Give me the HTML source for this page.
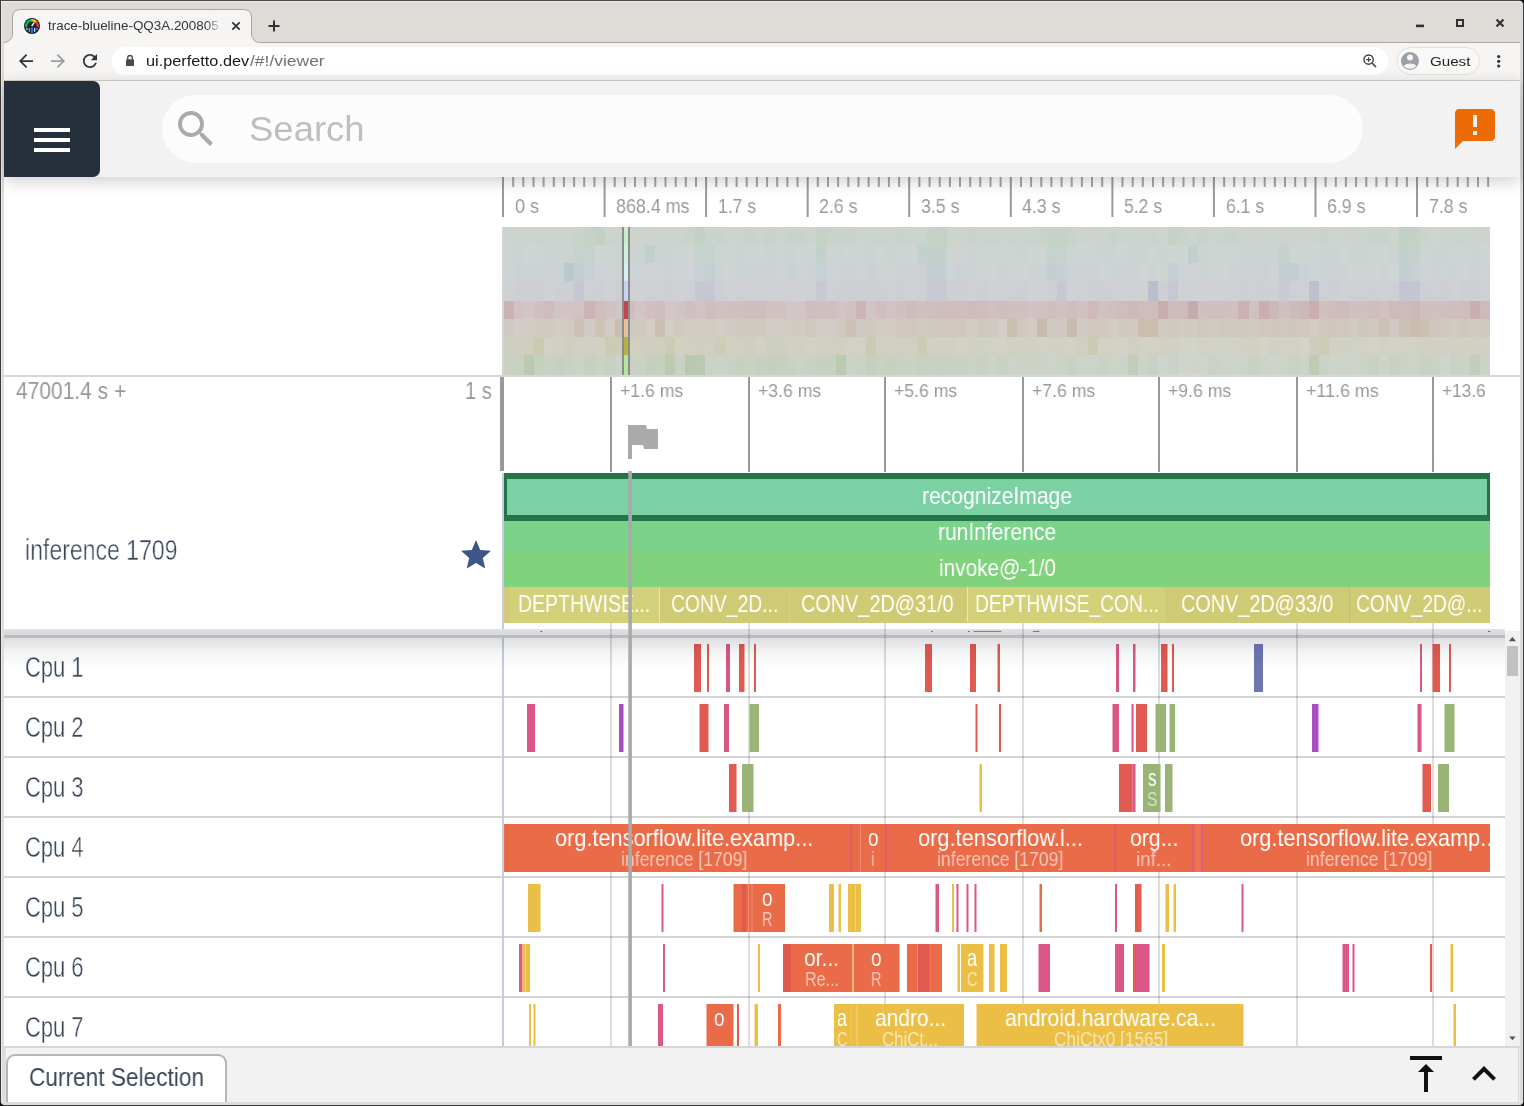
<!DOCTYPE html>
<html><head><meta charset="utf-8"><title>trace-blueline</title><style>html,body{margin:0;padding:0}
body{width:1524px;height:1106px;overflow:hidden;position:relative;background:#dfdcd8;font-family:"Liberation Sans",sans-serif;}
.r{position:absolute;display:block}
.t{position:absolute;white-space:nowrap;transform-origin:0 0;display:block;will-change:transform}
</style></head><body>
<div class="r" style="left:0px;top:0px;width:1524px;height:1106px;background:#dfdcd8;"></div>
<div class="r" style="left:1px;top:1px;width:1522px;height:1px;background:#ece9e6;"></div>
<div class="r" style="left:1px;top:1px;width:1px;height:1104px;background:#ece9e6;"></div>
<div class="r" style="left:4px;top:42px;width:1516px;height:38px;background:#f6f5f4;"></div>
<div class="r" style="left:4px;top:80px;width:1516px;height:1px;background:#d6d0ca;"></div>
<svg class="r" style="left:0;top:0" width="1524" height="81" viewBox="0 0 1524 81"><path d="M4 42.5 C8.5 42.5 12.5 38.5 12.5 34 L12.5 17.5 Q12.5 9.5 20.5 9.5 L243.5 9.5 Q251.5 9.5 251.5 17.5 L251.5 34 C251.5 38.5 255 42.5 259.5 42.5 L259.5 43 L4 43 Z" fill="#f6f5f4"/><path d="M4 42.5 C8.5 42.5 12.5 38.5 12.5 34 L12.5 17.5 Q12.5 9.5 20.5 9.5 L243.5 9.5 Q251.5 9.5 251.5 17.5 L251.5 34 C251.5 38.5 255 42.5 259.5 42.5 L1520 42.5" fill="none" stroke="#a9a6a2" stroke-width="1"/><g transform="translate(24,18)"><circle cx="8" cy="8" r="8" fill="#18212d"/><path d="M2.29 9.0 A5.8 5.8 0 0 1 7.19 2.26" stroke="#00c244" stroke-width="2.4" fill="none"/><path d="M7.19 2.26 A5.8 5.8 0 0 1 12.31 4.12" stroke="#fbb905" stroke-width="2.4" fill="none"/><path d="M12.31 4.12 A5.8 5.8 0 0 1 13.71 9.0" stroke="#ff3a1e" stroke-width="2.4" fill="none"/><path d="M7.7 8.2 L10.1 4.6" stroke="#fff" stroke-width="1.4"/><rect x="2.2" y="9.9" width="1.4" height="2.2" fill="#a9c2ea"/><rect x="4.7" y="9.9" width="1.4" height="3.9" fill="#5ea4ff"/><rect x="7" y="9.5" width="2" height="5.6" fill="#2b70dd"/><rect x="10" y="9.9" width="1.3" height="3.9" fill="#cfe5ff"/><rect x="12.2" y="9.9" width="1.6" height="2.2" fill="#2d7de9"/></g><path d="M232.3 22.3 L239.7 29.7 M239.7 22.3 L232.3 29.7" stroke="#2e3436" stroke-width="1.8" fill="none"/><path d="M268.5 26 H279.5 M274 20.5 V31.5" stroke="#2e3436" stroke-width="2" fill="none"/><rect x="1416" y="24.6" width="8" height="2.6" fill="#2e3436"/><rect x="1457" y="20" width="6" height="6" fill="none" stroke="#2e3436" stroke-width="2"/><path d="M1496.5 19.5 L1503.5 26.5 M1503.5 19.5 L1496.5 26.5" stroke="#2e3436" stroke-width="2.2" fill="none"/><rect x="111.5" y="47" width="1276.5" height="28" rx="14" fill="#fff"/><g transform="translate(15.5,50.5) scale(0.875)"><path d="M20 11H7.83l5.59-5.59L12 4l-8 8 8 8 1.41-1.41L7.83 13H20v-2z" fill="#2e3436"/></g><g transform="translate(68.5,50.5) scale(-0.875,0.875)"><path d="M20 11H7.83l5.59-5.59L12 4l-8 8 8 8 1.41-1.41L7.83 13H20v-2z" fill="#9b9c9c"/></g><g transform="translate(79.5,50.5) scale(0.875)"><path d="M17.65 6.35C16.2 4.9 14.21 4 12 4c-4.42 0-7.99 3.58-7.99 8s3.57 8 7.99 8c3.73 0 6.84-2.55 7.73-6h-2.08c-.82 2.33-3.04 4-5.65 4-3.31 0-6-2.69-6-6s2.69-6 6-6c1.66 0 3.14.69 4.22 1.78L13 11h7V4l-2.35 2.35z" fill="#2e3436"/></g><rect x="126" y="59.2" width="8" height="6.8" rx="0.8" fill="#4a4a4a"/><path d="M127.7 59.5 V57.8 a2.3 2.3 0 0 1 4.6 0 V59.5" stroke="#4a4a4a" stroke-width="1.3" fill="none"/><circle cx="1368.6" cy="59.6" r="4.6" fill="none" stroke="#3c4043" stroke-width="1.4"/><path d="M1372 63 L1376 67" stroke="#3c4043" stroke-width="1.6"/><path d="M1366.2 59.6 H1371 M1368.6 57.2 V62" stroke="#3c4043" stroke-width="1.1"/><rect x="1397" y="47.5" width="82.5" height="27" rx="13.5" fill="#f9f8f7" stroke="#e2e0dd" stroke-width="1"/><circle cx="1410" cy="61" r="9" fill="#9aa0a6"/><circle cx="1410" cy="57.6" r="3" fill="#f6f5f4"/><path d="M1403.8 66.2 a6.4 3.6 0 0 1 12.4 0 a8.6 8.6 0 0 1 -12.4 0z" fill="#f6f5f4"/><circle cx="1498.7" cy="56.6" r="1.6" fill="#2e3436"/><circle cx="1498.7" cy="61.3" r="1.6" fill="#2e3436"/><circle cx="1498.7" cy="66.0" r="1.6" fill="#2e3436"/></svg>
<span class="t" style="left:48.00px;top:20.00px;font-size:12.6px;line-height:12.6px;color:#30363a;transform:scaleX(1.0642);">trace-blueline-QQ3A.200805</span>
<div class="r" style="left:206px;top:14px;width:20px;height:22px;background:linear-gradient(90deg,rgba(246,245,244,0),#f6f5f4 80%)"></div>
<span class="t" style="left:146.00px;top:54.00px;font-size:14.6px;line-height:14.6px;color:#16191b;transform:scaleX(1.1153);">ui.perfetto.dev</span>
<span class="t" style="left:250.00px;top:54.00px;font-size:14.6px;line-height:14.6px;color:#6e7275;transform:scaleX(1.1956);">/#!/viewer</span>
<span class="t" style="left:1429.60px;top:55.00px;font-size:13.4px;line-height:13.4px;color:#202428;transform:scaleX(1.1300);">Guest</span>
<div class="r" style="left:4px;top:81px;width:1516px;height:1021px;background:#ffffff;"></div>
<svg class="r" style="left:0;top:177px" width="1524" height="200" viewBox="0 177 1524 200"><rect x="502.0" y="177" width="2" height="40" fill="#9a9a9a"/><rect x="512.2" y="177" width="2" height="10" fill="#a6a6a6"/><rect x="522.3" y="177" width="2" height="10" fill="#a6a6a6"/><rect x="532.5" y="177" width="2" height="10" fill="#a6a6a6"/><rect x="542.6" y="177" width="2" height="10" fill="#a6a6a6"/><rect x="552.8" y="177" width="2" height="10" fill="#a6a6a6"/><rect x="562.9" y="177" width="2" height="10" fill="#a6a6a6"/><rect x="573.1" y="177" width="2" height="10" fill="#a6a6a6"/><rect x="583.2" y="177" width="2" height="10" fill="#a6a6a6"/><rect x="593.4" y="177" width="2" height="10" fill="#a6a6a6"/><rect x="603.6" y="177" width="2" height="40" fill="#9a9a9a"/><rect x="613.7" y="177" width="2" height="10" fill="#a6a6a6"/><rect x="623.9" y="177" width="2" height="10" fill="#a6a6a6"/><rect x="634.0" y="177" width="2" height="10" fill="#a6a6a6"/><rect x="644.2" y="177" width="2" height="10" fill="#a6a6a6"/><rect x="654.3" y="177" width="2" height="10" fill="#a6a6a6"/><rect x="664.5" y="177" width="2" height="10" fill="#a6a6a6"/><rect x="674.7" y="177" width="2" height="10" fill="#a6a6a6"/><rect x="684.8" y="177" width="2" height="10" fill="#a6a6a6"/><rect x="695.0" y="177" width="2" height="10" fill="#a6a6a6"/><rect x="705.1" y="177" width="2" height="40" fill="#9a9a9a"/><rect x="715.3" y="177" width="2" height="10" fill="#a6a6a6"/><rect x="725.4" y="177" width="2" height="10" fill="#a6a6a6"/><rect x="735.6" y="177" width="2" height="10" fill="#a6a6a6"/><rect x="745.7" y="177" width="2" height="10" fill="#a6a6a6"/><rect x="755.9" y="177" width="2" height="10" fill="#a6a6a6"/><rect x="766.1" y="177" width="2" height="10" fill="#a6a6a6"/><rect x="776.2" y="177" width="2" height="10" fill="#a6a6a6"/><rect x="786.4" y="177" width="2" height="10" fill="#a6a6a6"/><rect x="796.5" y="177" width="2" height="10" fill="#a6a6a6"/><rect x="806.7" y="177" width="2" height="40" fill="#9a9a9a"/><rect x="816.8" y="177" width="2" height="10" fill="#a6a6a6"/><rect x="827.0" y="177" width="2" height="10" fill="#a6a6a6"/><rect x="837.1" y="177" width="2" height="10" fill="#a6a6a6"/><rect x="847.3" y="177" width="2" height="10" fill="#a6a6a6"/><rect x="857.5" y="177" width="2" height="10" fill="#a6a6a6"/><rect x="867.6" y="177" width="2" height="10" fill="#a6a6a6"/><rect x="877.8" y="177" width="2" height="10" fill="#a6a6a6"/><rect x="887.9" y="177" width="2" height="10" fill="#a6a6a6"/><rect x="898.1" y="177" width="2" height="10" fill="#a6a6a6"/><rect x="908.2" y="177" width="2" height="40" fill="#9a9a9a"/><rect x="918.4" y="177" width="2" height="10" fill="#a6a6a6"/><rect x="928.6" y="177" width="2" height="10" fill="#a6a6a6"/><rect x="938.7" y="177" width="2" height="10" fill="#a6a6a6"/><rect x="948.9" y="177" width="2" height="10" fill="#a6a6a6"/><rect x="959.0" y="177" width="2" height="10" fill="#a6a6a6"/><rect x="969.2" y="177" width="2" height="10" fill="#a6a6a6"/><rect x="979.3" y="177" width="2" height="10" fill="#a6a6a6"/><rect x="989.5" y="177" width="2" height="10" fill="#a6a6a6"/><rect x="999.6" y="177" width="2" height="10" fill="#a6a6a6"/><rect x="1009.8" y="177" width="2" height="40" fill="#9a9a9a"/><rect x="1020.0" y="177" width="2" height="10" fill="#a6a6a6"/><rect x="1030.1" y="177" width="2" height="10" fill="#a6a6a6"/><rect x="1040.3" y="177" width="2" height="10" fill="#a6a6a6"/><rect x="1050.4" y="177" width="2" height="10" fill="#a6a6a6"/><rect x="1060.6" y="177" width="2" height="10" fill="#a6a6a6"/><rect x="1070.7" y="177" width="2" height="10" fill="#a6a6a6"/><rect x="1080.9" y="177" width="2" height="10" fill="#a6a6a6"/><rect x="1091.0" y="177" width="2" height="10" fill="#a6a6a6"/><rect x="1101.2" y="177" width="2" height="10" fill="#a6a6a6"/><rect x="1111.4" y="177" width="2" height="40" fill="#9a9a9a"/><rect x="1121.5" y="177" width="2" height="10" fill="#a6a6a6"/><rect x="1131.7" y="177" width="2" height="10" fill="#a6a6a6"/><rect x="1141.8" y="177" width="2" height="10" fill="#a6a6a6"/><rect x="1152.0" y="177" width="2" height="10" fill="#a6a6a6"/><rect x="1162.1" y="177" width="2" height="10" fill="#a6a6a6"/><rect x="1172.3" y="177" width="2" height="10" fill="#a6a6a6"/><rect x="1182.5" y="177" width="2" height="10" fill="#a6a6a6"/><rect x="1192.6" y="177" width="2" height="10" fill="#a6a6a6"/><rect x="1202.8" y="177" width="2" height="10" fill="#a6a6a6"/><rect x="1212.9" y="177" width="2" height="40" fill="#9a9a9a"/><rect x="1223.1" y="177" width="2" height="10" fill="#a6a6a6"/><rect x="1233.2" y="177" width="2" height="10" fill="#a6a6a6"/><rect x="1243.4" y="177" width="2" height="10" fill="#a6a6a6"/><rect x="1253.5" y="177" width="2" height="10" fill="#a6a6a6"/><rect x="1263.7" y="177" width="2" height="10" fill="#a6a6a6"/><rect x="1273.9" y="177" width="2" height="10" fill="#a6a6a6"/><rect x="1284.0" y="177" width="2" height="10" fill="#a6a6a6"/><rect x="1294.2" y="177" width="2" height="10" fill="#a6a6a6"/><rect x="1304.3" y="177" width="2" height="10" fill="#a6a6a6"/><rect x="1314.5" y="177" width="2" height="40" fill="#9a9a9a"/><rect x="1324.6" y="177" width="2" height="10" fill="#a6a6a6"/><rect x="1334.8" y="177" width="2" height="10" fill="#a6a6a6"/><rect x="1344.9" y="177" width="2" height="10" fill="#a6a6a6"/><rect x="1355.1" y="177" width="2" height="10" fill="#a6a6a6"/><rect x="1365.3" y="177" width="2" height="10" fill="#a6a6a6"/><rect x="1375.4" y="177" width="2" height="10" fill="#a6a6a6"/><rect x="1385.6" y="177" width="2" height="10" fill="#a6a6a6"/><rect x="1395.7" y="177" width="2" height="10" fill="#a6a6a6"/><rect x="1405.9" y="177" width="2" height="10" fill="#a6a6a6"/><rect x="1416.0" y="177" width="2" height="40" fill="#9a9a9a"/><rect x="1426.2" y="177" width="2" height="10" fill="#a6a6a6"/><rect x="1436.4" y="177" width="2" height="10" fill="#a6a6a6"/><rect x="1446.5" y="177" width="2" height="10" fill="#a6a6a6"/><rect x="1456.7" y="177" width="2" height="10" fill="#a6a6a6"/><rect x="1466.8" y="177" width="2" height="10" fill="#a6a6a6"/><rect x="1477.0" y="177" width="2" height="10" fill="#a6a6a6"/><rect x="1487.1" y="177" width="2" height="10" fill="#a6a6a6"/></svg>
<span class="t" style="left:514.60px;top:196.00px;font-size:20.5px;line-height:20.5px;color:#9a9a9a;transform:scaleX(0.8776);">0 s</span>
<span class="t" style="left:616.16px;top:196.00px;font-size:20.5px;line-height:20.5px;color:#9a9a9a;transform:scaleX(0.8716);">868.4 ms</span>
<span class="t" style="left:717.72px;top:196.00px;font-size:20.5px;line-height:20.5px;color:#9a9a9a;transform:scaleX(0.8550);">1.7 s</span>
<span class="t" style="left:819.28px;top:196.00px;font-size:20.5px;line-height:20.5px;color:#9a9a9a;transform:scaleX(0.8663);">2.6 s</span>
<span class="t" style="left:920.84px;top:196.00px;font-size:20.5px;line-height:20.5px;color:#9a9a9a;transform:scaleX(0.8663);">3.5 s</span>
<span class="t" style="left:1022.40px;top:196.00px;font-size:20.5px;line-height:20.5px;color:#9a9a9a;transform:scaleX(0.8663);">4.3 s</span>
<span class="t" style="left:1123.96px;top:196.00px;font-size:20.5px;line-height:20.5px;color:#9a9a9a;transform:scaleX(0.8550);">5.2 s</span>
<span class="t" style="left:1225.52px;top:196.00px;font-size:20.5px;line-height:20.5px;color:#9a9a9a;transform:scaleX(0.8550);">6.1 s</span>
<span class="t" style="left:1327.08px;top:196.00px;font-size:20.5px;line-height:20.5px;color:#9a9a9a;transform:scaleX(0.8663);">6.9 s</span>
<span class="t" style="left:1428.64px;top:196.00px;font-size:20.5px;line-height:20.5px;color:#9a9a9a;transform:scaleX(0.8663);">7.8 s</span>
<svg class="r" style="left:504px;top:227px" width="986" height="148" viewBox="504 227 986 148" shape-rendering="crispEdges"><rect x="504" y="227" width="986" height="18" fill="rgb(203,212,204)"/><rect x="504.00" y="227" width="10.11" height="18" fill="rgb(204,212,205)"/><rect x="514.06" y="227" width="10.11" height="18" fill="rgb(203,212,204)"/><rect x="524.12" y="227" width="10.11" height="18" fill="rgb(204,212,205)"/><rect x="534.18" y="227" width="10.11" height="18" fill="rgb(203,212,204)"/><rect x="544.24" y="227" width="10.11" height="18" fill="rgb(204,212,205)"/><rect x="554.31" y="227" width="10.11" height="18" fill="rgb(203,212,204)"/><rect x="564.37" y="227" width="10.11" height="18" fill="rgb(205,212,206)"/><rect x="574.43" y="227" width="10.11" height="18" fill="rgb(202,211,203)"/><rect x="584.49" y="227" width="10.11" height="18" fill="rgb(197,210,199)"/><rect x="594.55" y="227" width="10.11" height="18" fill="rgb(194,209,196)"/><rect x="604.61" y="227" width="10.11" height="18" fill="rgb(202,212,204)"/><rect x="614.67" y="227" width="10.11" height="18" fill="rgb(203,212,204)"/><rect x="624.73" y="227" width="10.11" height="18" fill="rgb(205,212,206)"/><rect x="634.80" y="227" width="10.11" height="18" fill="rgb(204,212,205)"/><rect x="644.86" y="227" width="10.11" height="18" fill="rgb(204,212,205)"/><rect x="654.92" y="227" width="10.11" height="18" fill="rgb(202,212,204)"/><rect x="664.98" y="227" width="10.11" height="18" fill="rgb(205,212,206)"/><rect x="675.04" y="227" width="10.11" height="18" fill="rgb(204,212,205)"/><rect x="685.10" y="227" width="10.11" height="18" fill="rgb(202,211,203)"/><rect x="695.16" y="227" width="10.11" height="18" fill="rgb(195,209,197)"/><rect x="705.22" y="227" width="10.11" height="18" fill="rgb(203,212,204)"/><rect x="715.29" y="227" width="10.11" height="18" fill="rgb(201,211,203)"/><rect x="725.35" y="227" width="10.11" height="18" fill="rgb(205,212,206)"/><rect x="735.41" y="227" width="10.11" height="18" fill="rgb(205,212,206)"/><rect x="745.47" y="227" width="10.11" height="18" fill="rgb(202,211,203)"/><rect x="755.53" y="227" width="10.11" height="18" fill="rgb(204,212,205)"/><rect x="765.59" y="227" width="10.11" height="18" fill="rgb(202,211,203)"/><rect x="775.65" y="227" width="10.11" height="18" fill="rgb(205,212,206)"/><rect x="785.71" y="227" width="10.11" height="18" fill="rgb(202,211,203)"/><rect x="795.78" y="227" width="10.11" height="18" fill="rgb(202,211,203)"/><rect x="805.84" y="227" width="10.11" height="18" fill="rgb(204,212,205)"/><rect x="815.90" y="227" width="10.11" height="18" fill="rgb(197,210,198)"/><rect x="825.96" y="227" width="10.11" height="18" fill="rgb(202,211,203)"/><rect x="836.02" y="227" width="10.11" height="18" fill="rgb(202,211,203)"/><rect x="846.08" y="227" width="10.11" height="18" fill="rgb(202,211,203)"/><rect x="856.14" y="227" width="10.11" height="18" fill="rgb(205,212,206)"/><rect x="866.20" y="227" width="10.11" height="18" fill="rgb(203,212,204)"/><rect x="876.27" y="227" width="10.11" height="18" fill="rgb(202,211,204)"/><rect x="886.33" y="227" width="10.11" height="18" fill="rgb(205,212,206)"/><rect x="896.39" y="227" width="10.11" height="18" fill="rgb(202,211,203)"/><rect x="906.45" y="227" width="10.11" height="18" fill="rgb(202,212,204)"/><rect x="916.51" y="227" width="10.11" height="18" fill="rgb(204,212,206)"/><rect x="926.57" y="227" width="10.11" height="18" fill="rgb(198,210,199)"/><rect x="936.63" y="227" width="10.11" height="18" fill="rgb(196,209,197)"/><rect x="946.69" y="227" width="10.11" height="18" fill="rgb(205,212,206)"/><rect x="956.76" y="227" width="10.11" height="18" fill="rgb(204,212,205)"/><rect x="966.82" y="227" width="10.11" height="18" fill="rgb(202,211,203)"/><rect x="976.88" y="227" width="10.11" height="18" fill="rgb(205,212,206)"/><rect x="986.94" y="227" width="10.11" height="18" fill="rgb(203,212,204)"/><rect x="997.00" y="227" width="10.11" height="18" fill="rgb(204,212,205)"/><rect x="1007.06" y="227" width="10.11" height="18" fill="rgb(202,212,204)"/><rect x="1017.12" y="227" width="10.11" height="18" fill="rgb(205,212,206)"/><rect x="1027.18" y="227" width="10.11" height="18" fill="rgb(203,212,204)"/><rect x="1037.24" y="227" width="10.11" height="18" fill="rgb(202,211,203)"/><rect x="1047.31" y="227" width="10.11" height="18" fill="rgb(197,210,198)"/><rect x="1057.37" y="227" width="10.11" height="18" fill="rgb(197,210,199)"/><rect x="1067.43" y="227" width="10.11" height="18" fill="rgb(202,211,203)"/><rect x="1077.49" y="227" width="10.11" height="18" fill="rgb(204,212,205)"/><rect x="1087.55" y="227" width="10.11" height="18" fill="rgb(204,212,205)"/><rect x="1097.61" y="227" width="10.11" height="18" fill="rgb(205,212,206)"/><rect x="1107.67" y="227" width="10.11" height="18" fill="rgb(202,211,203)"/><rect x="1117.73" y="227" width="10.11" height="18" fill="rgb(203,212,205)"/><rect x="1127.80" y="227" width="10.11" height="18" fill="rgb(202,212,204)"/><rect x="1137.86" y="227" width="10.11" height="18" fill="rgb(204,212,205)"/><rect x="1147.92" y="227" width="10.11" height="18" fill="rgb(203,212,204)"/><rect x="1157.98" y="227" width="10.11" height="18" fill="rgb(206,213,206)"/><rect x="1168.04" y="227" width="10.11" height="18" fill="rgb(197,210,199)"/><rect x="1178.10" y="227" width="10.11" height="18" fill="rgb(202,211,203)"/><rect x="1188.16" y="227" width="10.11" height="18" fill="rgb(205,212,206)"/><rect x="1198.22" y="227" width="10.11" height="18" fill="rgb(202,211,203)"/><rect x="1208.29" y="227" width="10.11" height="18" fill="rgb(204,212,205)"/><rect x="1218.35" y="227" width="10.11" height="18" fill="rgb(203,212,204)"/><rect x="1228.41" y="227" width="10.11" height="18" fill="rgb(202,211,203)"/><rect x="1238.47" y="227" width="10.11" height="18" fill="rgb(205,212,206)"/><rect x="1248.53" y="227" width="10.11" height="18" fill="rgb(205,212,206)"/><rect x="1258.59" y="227" width="10.11" height="18" fill="rgb(205,212,206)"/><rect x="1268.65" y="227" width="10.11" height="18" fill="rgb(203,212,204)"/><rect x="1278.71" y="227" width="10.11" height="18" fill="rgb(205,212,206)"/><rect x="1288.78" y="227" width="10.11" height="18" fill="rgb(205,212,206)"/><rect x="1298.84" y="227" width="10.11" height="18" fill="rgb(204,212,205)"/><rect x="1308.90" y="227" width="10.11" height="18" fill="rgb(204,212,205)"/><rect x="1318.96" y="227" width="10.11" height="18" fill="rgb(202,211,203)"/><rect x="1329.02" y="227" width="10.11" height="18" fill="rgb(206,213,207)"/><rect x="1339.08" y="227" width="10.11" height="18" fill="rgb(205,212,206)"/><rect x="1349.14" y="227" width="10.11" height="18" fill="rgb(205,212,206)"/><rect x="1359.20" y="227" width="10.11" height="18" fill="rgb(203,212,205)"/><rect x="1369.27" y="227" width="10.11" height="18" fill="rgb(202,211,203)"/><rect x="1379.33" y="227" width="10.11" height="18" fill="rgb(202,211,203)"/><rect x="1389.39" y="227" width="10.11" height="18" fill="rgb(204,212,205)"/><rect x="1399.45" y="227" width="10.11" height="18" fill="rgb(194,209,196)"/><rect x="1409.51" y="227" width="10.11" height="18" fill="rgb(196,210,198)"/><rect x="1419.57" y="227" width="10.11" height="18" fill="rgb(203,212,204)"/><rect x="1429.63" y="227" width="10.11" height="18" fill="rgb(205,213,206)"/><rect x="1439.69" y="227" width="10.11" height="18" fill="rgb(204,212,205)"/><rect x="1449.76" y="227" width="10.11" height="18" fill="rgb(203,212,204)"/><rect x="1459.82" y="227" width="10.11" height="18" fill="rgb(203,212,204)"/><rect x="1469.88" y="227" width="10.11" height="18" fill="rgb(205,212,206)"/><rect x="1479.94" y="227" width="10.11" height="18" fill="rgb(205,212,206)"/><rect x="504" y="245" width="986" height="18" fill="rgb(204,212,210)"/><rect x="504.00" y="245" width="10.11" height="18" fill="rgb(205,212,210)"/><rect x="514.06" y="245" width="10.11" height="18" fill="rgb(203,212,209)"/><rect x="524.12" y="245" width="10.11" height="18" fill="rgb(206,213,210)"/><rect x="534.18" y="245" width="10.11" height="18" fill="rgb(205,212,210)"/><rect x="544.24" y="245" width="10.11" height="18" fill="rgb(204,212,209)"/><rect x="554.31" y="245" width="10.11" height="18" fill="rgb(204,212,210)"/><rect x="564.37" y="245" width="10.11" height="18" fill="rgb(204,212,209)"/><rect x="574.43" y="245" width="10.11" height="18" fill="rgb(197,210,206)"/><rect x="584.49" y="245" width="10.11" height="18" fill="rgb(199,210,206)"/><rect x="594.55" y="245" width="10.11" height="18" fill="rgb(206,213,210)"/><rect x="604.61" y="245" width="10.11" height="18" fill="rgb(205,212,210)"/><rect x="614.67" y="245" width="10.11" height="18" fill="rgb(204,212,209)"/><rect x="624.73" y="245" width="10.11" height="18" fill="rgb(203,212,209)"/><rect x="634.80" y="245" width="10.11" height="18" fill="rgb(204,212,210)"/><rect x="644.86" y="245" width="10.11" height="18" fill="rgb(193,208,203)"/><rect x="654.92" y="245" width="10.11" height="18" fill="rgb(203,212,209)"/><rect x="664.98" y="245" width="10.11" height="18" fill="rgb(204,212,210)"/><rect x="675.04" y="245" width="10.11" height="18" fill="rgb(205,212,210)"/><rect x="685.10" y="245" width="10.11" height="18" fill="rgb(206,213,211)"/><rect x="695.16" y="245" width="10.11" height="18" fill="rgb(198,210,206)"/><rect x="705.22" y="245" width="10.11" height="18" fill="rgb(197,210,206)"/><rect x="715.29" y="245" width="10.11" height="18" fill="rgb(205,212,210)"/><rect x="725.35" y="245" width="10.11" height="18" fill="rgb(205,212,210)"/><rect x="735.41" y="245" width="10.11" height="18" fill="rgb(204,212,209)"/><rect x="745.47" y="245" width="10.11" height="18" fill="rgb(206,213,210)"/><rect x="755.53" y="245" width="10.11" height="18" fill="rgb(206,213,211)"/><rect x="765.59" y="245" width="10.11" height="18" fill="rgb(203,212,209)"/><rect x="775.65" y="245" width="10.11" height="18" fill="rgb(205,212,210)"/><rect x="785.71" y="245" width="10.11" height="18" fill="rgb(204,212,209)"/><rect x="795.78" y="245" width="10.11" height="18" fill="rgb(206,213,210)"/><rect x="805.84" y="245" width="10.11" height="18" fill="rgb(206,213,211)"/><rect x="815.90" y="245" width="10.11" height="18" fill="rgb(194,209,204)"/><rect x="825.96" y="245" width="10.11" height="18" fill="rgb(205,212,210)"/><rect x="836.02" y="245" width="10.11" height="18" fill="rgb(204,212,209)"/><rect x="846.08" y="245" width="10.11" height="18" fill="rgb(206,213,211)"/><rect x="856.14" y="245" width="10.11" height="18" fill="rgb(205,212,210)"/><rect x="866.20" y="245" width="10.11" height="18" fill="rgb(204,212,209)"/><rect x="876.27" y="245" width="10.11" height="18" fill="rgb(206,213,210)"/><rect x="886.33" y="245" width="10.11" height="18" fill="rgb(203,212,209)"/><rect x="896.39" y="245" width="10.11" height="18" fill="rgb(205,212,210)"/><rect x="906.45" y="245" width="10.11" height="18" fill="rgb(205,212,210)"/><rect x="916.51" y="245" width="10.11" height="18" fill="rgb(195,209,204)"/><rect x="926.57" y="245" width="10.11" height="18" fill="rgb(194,209,204)"/><rect x="936.63" y="245" width="10.11" height="18" fill="rgb(194,209,204)"/><rect x="946.69" y="245" width="10.11" height="18" fill="rgb(205,212,210)"/><rect x="956.76" y="245" width="10.11" height="18" fill="rgb(205,212,210)"/><rect x="966.82" y="245" width="10.11" height="18" fill="rgb(203,212,209)"/><rect x="976.88" y="245" width="10.11" height="18" fill="rgb(205,212,210)"/><rect x="986.94" y="245" width="10.11" height="18" fill="rgb(205,213,210)"/><rect x="997.00" y="245" width="10.11" height="18" fill="rgb(205,212,210)"/><rect x="1007.06" y="245" width="10.11" height="18" fill="rgb(205,212,210)"/><rect x="1017.12" y="245" width="10.11" height="18" fill="rgb(204,212,209)"/><rect x="1027.18" y="245" width="10.11" height="18" fill="rgb(206,213,210)"/><rect x="1037.24" y="245" width="10.11" height="18" fill="rgb(206,213,210)"/><rect x="1047.31" y="245" width="10.11" height="18" fill="rgb(198,210,206)"/><rect x="1057.37" y="245" width="10.11" height="18" fill="rgb(199,210,207)"/><rect x="1067.43" y="245" width="10.11" height="18" fill="rgb(205,212,210)"/><rect x="1077.49" y="245" width="10.11" height="18" fill="rgb(206,213,210)"/><rect x="1087.55" y="245" width="10.11" height="18" fill="rgb(205,212,210)"/><rect x="1097.61" y="245" width="10.11" height="18" fill="rgb(203,212,209)"/><rect x="1107.67" y="245" width="10.11" height="18" fill="rgb(204,212,210)"/><rect x="1117.73" y="245" width="10.11" height="18" fill="rgb(206,213,211)"/><rect x="1127.80" y="245" width="10.11" height="18" fill="rgb(204,212,210)"/><rect x="1137.86" y="245" width="10.11" height="18" fill="rgb(204,212,210)"/><rect x="1147.92" y="245" width="10.11" height="18" fill="rgb(206,213,210)"/><rect x="1157.98" y="245" width="10.11" height="18" fill="rgb(204,212,209)"/><rect x="1168.04" y="245" width="10.11" height="18" fill="rgb(205,212,210)"/><rect x="1178.10" y="245" width="10.11" height="18" fill="rgb(206,213,210)"/><rect x="1188.16" y="245" width="10.11" height="18" fill="rgb(193,208,203)"/><rect x="1198.22" y="245" width="10.11" height="18" fill="rgb(204,212,209)"/><rect x="1208.29" y="245" width="10.11" height="18" fill="rgb(205,212,210)"/><rect x="1218.35" y="245" width="10.11" height="18" fill="rgb(205,213,210)"/><rect x="1228.41" y="245" width="10.11" height="18" fill="rgb(205,212,210)"/><rect x="1238.47" y="245" width="10.11" height="18" fill="rgb(203,212,209)"/><rect x="1248.53" y="245" width="10.11" height="18" fill="rgb(204,212,210)"/><rect x="1258.59" y="245" width="10.11" height="18" fill="rgb(204,212,210)"/><rect x="1268.65" y="245" width="10.11" height="18" fill="rgb(203,212,209)"/><rect x="1278.71" y="245" width="10.11" height="18" fill="rgb(196,209,205)"/><rect x="1288.78" y="245" width="10.11" height="18" fill="rgb(205,212,210)"/><rect x="1298.84" y="245" width="10.11" height="18" fill="rgb(205,213,210)"/><rect x="1308.90" y="245" width="10.11" height="18" fill="rgb(206,213,210)"/><rect x="1318.96" y="245" width="10.11" height="18" fill="rgb(204,212,209)"/><rect x="1329.02" y="245" width="10.11" height="18" fill="rgb(204,212,209)"/><rect x="1339.08" y="245" width="10.11" height="18" fill="rgb(206,213,210)"/><rect x="1349.14" y="245" width="10.11" height="18" fill="rgb(204,212,209)"/><rect x="1359.20" y="245" width="10.11" height="18" fill="rgb(204,212,209)"/><rect x="1369.27" y="245" width="10.11" height="18" fill="rgb(206,213,210)"/><rect x="1379.33" y="245" width="10.11" height="18" fill="rgb(206,213,210)"/><rect x="1389.39" y="245" width="10.11" height="18" fill="rgb(204,212,209)"/><rect x="1399.45" y="245" width="10.11" height="18" fill="rgb(195,209,204)"/><rect x="1409.51" y="245" width="10.11" height="18" fill="rgb(196,209,205)"/><rect x="1419.57" y="245" width="10.11" height="18" fill="rgb(205,212,210)"/><rect x="1429.63" y="245" width="10.11" height="18" fill="rgb(203,212,209)"/><rect x="1439.69" y="245" width="10.11" height="18" fill="rgb(203,212,209)"/><rect x="1449.76" y="245" width="10.11" height="18" fill="rgb(205,212,210)"/><rect x="1459.82" y="245" width="10.11" height="18" fill="rgb(205,212,210)"/><rect x="1469.88" y="245" width="10.11" height="18" fill="rgb(203,212,209)"/><rect x="1479.94" y="245" width="10.11" height="18" fill="rgb(206,213,210)"/><rect x="504" y="263" width="986" height="18" fill="rgb(205,211,212)"/><rect x="504.00" y="263" width="10.11" height="18" fill="rgb(206,212,213)"/><rect x="514.06" y="263" width="10.11" height="18" fill="rgb(203,210,212)"/><rect x="524.12" y="263" width="10.11" height="18" fill="rgb(205,211,212)"/><rect x="534.18" y="263" width="10.11" height="18" fill="rgb(204,211,212)"/><rect x="544.24" y="263" width="10.11" height="18" fill="rgb(205,211,212)"/><rect x="554.31" y="263" width="10.11" height="18" fill="rgb(205,211,213)"/><rect x="564.37" y="263" width="10.11" height="18" fill="rgb(185,202,206)"/><rect x="574.43" y="263" width="10.11" height="18" fill="rgb(197,207,210)"/><rect x="584.49" y="263" width="10.11" height="18" fill="rgb(200,208,211)"/><rect x="594.55" y="263" width="10.11" height="18" fill="rgb(206,211,213)"/><rect x="604.61" y="263" width="10.11" height="18" fill="rgb(206,211,213)"/><rect x="614.67" y="263" width="10.11" height="18" fill="rgb(205,211,212)"/><rect x="624.73" y="263" width="10.11" height="18" fill="rgb(205,211,212)"/><rect x="634.80" y="263" width="10.11" height="18" fill="rgb(206,211,213)"/><rect x="644.86" y="263" width="10.11" height="18" fill="rgb(206,212,213)"/><rect x="654.92" y="263" width="10.11" height="18" fill="rgb(206,211,213)"/><rect x="664.98" y="263" width="10.11" height="18" fill="rgb(205,211,212)"/><rect x="675.04" y="263" width="10.11" height="18" fill="rgb(206,212,213)"/><rect x="685.10" y="263" width="10.11" height="18" fill="rgb(206,211,213)"/><rect x="695.16" y="263" width="10.11" height="18" fill="rgb(199,208,210)"/><rect x="705.22" y="263" width="10.11" height="18" fill="rgb(197,207,210)"/><rect x="715.29" y="263" width="10.11" height="18" fill="rgb(205,211,213)"/><rect x="725.35" y="263" width="10.11" height="18" fill="rgb(207,212,213)"/><rect x="735.41" y="263" width="10.11" height="18" fill="rgb(204,211,212)"/><rect x="745.47" y="263" width="10.11" height="18" fill="rgb(205,211,212)"/><rect x="755.53" y="263" width="10.11" height="18" fill="rgb(205,211,212)"/><rect x="765.59" y="263" width="10.11" height="18" fill="rgb(205,211,213)"/><rect x="775.65" y="263" width="10.11" height="18" fill="rgb(206,211,213)"/><rect x="785.71" y="263" width="10.11" height="18" fill="rgb(203,210,212)"/><rect x="795.78" y="263" width="10.11" height="18" fill="rgb(206,211,213)"/><rect x="805.84" y="263" width="10.11" height="18" fill="rgb(205,211,212)"/><rect x="815.90" y="263" width="10.11" height="18" fill="rgb(199,208,210)"/><rect x="825.96" y="263" width="10.11" height="18" fill="rgb(206,212,213)"/><rect x="836.02" y="263" width="10.11" height="18" fill="rgb(205,211,212)"/><rect x="846.08" y="263" width="10.11" height="18" fill="rgb(205,211,212)"/><rect x="856.14" y="263" width="10.11" height="18" fill="rgb(206,211,213)"/><rect x="866.20" y="263" width="10.11" height="18" fill="rgb(204,210,212)"/><rect x="876.27" y="263" width="10.11" height="18" fill="rgb(206,211,213)"/><rect x="886.33" y="263" width="10.11" height="18" fill="rgb(207,212,213)"/><rect x="896.39" y="263" width="10.11" height="18" fill="rgb(205,211,212)"/><rect x="906.45" y="263" width="10.11" height="18" fill="rgb(205,211,212)"/><rect x="916.51" y="263" width="10.11" height="18" fill="rgb(204,210,212)"/><rect x="926.57" y="263" width="10.11" height="18" fill="rgb(196,207,209)"/><rect x="936.63" y="263" width="10.11" height="18" fill="rgb(196,207,209)"/><rect x="946.69" y="263" width="10.11" height="18" fill="rgb(206,211,213)"/><rect x="956.76" y="263" width="10.11" height="18" fill="rgb(203,210,212)"/><rect x="966.82" y="263" width="10.11" height="18" fill="rgb(204,210,212)"/><rect x="976.88" y="263" width="10.11" height="18" fill="rgb(206,211,213)"/><rect x="986.94" y="263" width="10.11" height="18" fill="rgb(207,212,213)"/><rect x="997.00" y="263" width="10.11" height="18" fill="rgb(204,210,212)"/><rect x="1007.06" y="263" width="10.11" height="18" fill="rgb(207,212,213)"/><rect x="1017.12" y="263" width="10.11" height="18" fill="rgb(207,212,213)"/><rect x="1027.18" y="263" width="10.11" height="18" fill="rgb(205,211,212)"/><rect x="1037.24" y="263" width="10.11" height="18" fill="rgb(204,211,212)"/><rect x="1047.31" y="263" width="10.11" height="18" fill="rgb(197,207,210)"/><rect x="1057.37" y="263" width="10.11" height="18" fill="rgb(199,208,210)"/><rect x="1067.43" y="263" width="10.11" height="18" fill="rgb(205,211,212)"/><rect x="1077.49" y="263" width="10.11" height="18" fill="rgb(204,210,212)"/><rect x="1087.55" y="263" width="10.11" height="18" fill="rgb(204,210,212)"/><rect x="1097.61" y="263" width="10.11" height="18" fill="rgb(206,211,213)"/><rect x="1107.67" y="263" width="10.11" height="18" fill="rgb(204,211,212)"/><rect x="1117.73" y="263" width="10.11" height="18" fill="rgb(205,211,212)"/><rect x="1127.80" y="263" width="10.11" height="18" fill="rgb(205,211,213)"/><rect x="1137.86" y="263" width="10.11" height="18" fill="rgb(207,212,213)"/><rect x="1147.92" y="263" width="10.11" height="18" fill="rgb(204,211,212)"/><rect x="1157.98" y="263" width="10.11" height="18" fill="rgb(207,212,213)"/><rect x="1168.04" y="263" width="10.11" height="18" fill="rgb(198,208,210)"/><rect x="1178.10" y="263" width="10.11" height="18" fill="rgb(206,211,213)"/><rect x="1188.16" y="263" width="10.11" height="18" fill="rgb(206,211,213)"/><rect x="1198.22" y="263" width="10.11" height="18" fill="rgb(204,211,212)"/><rect x="1208.29" y="263" width="10.11" height="18" fill="rgb(207,212,213)"/><rect x="1218.35" y="263" width="10.11" height="18" fill="rgb(207,212,213)"/><rect x="1228.41" y="263" width="10.11" height="18" fill="rgb(204,210,212)"/><rect x="1238.47" y="263" width="10.11" height="18" fill="rgb(205,211,212)"/><rect x="1248.53" y="263" width="10.11" height="18" fill="rgb(204,210,212)"/><rect x="1258.59" y="263" width="10.11" height="18" fill="rgb(204,210,212)"/><rect x="1268.65" y="263" width="10.11" height="18" fill="rgb(206,211,213)"/><rect x="1278.71" y="263" width="10.11" height="18" fill="rgb(197,207,210)"/><rect x="1288.78" y="263" width="10.11" height="18" fill="rgb(194,206,209)"/><rect x="1298.84" y="263" width="10.11" height="18" fill="rgb(204,210,212)"/><rect x="1308.90" y="263" width="10.11" height="18" fill="rgb(206,211,213)"/><rect x="1318.96" y="263" width="10.11" height="18" fill="rgb(204,211,212)"/><rect x="1329.02" y="263" width="10.11" height="18" fill="rgb(205,211,212)"/><rect x="1339.08" y="263" width="10.11" height="18" fill="rgb(205,211,212)"/><rect x="1349.14" y="263" width="10.11" height="18" fill="rgb(207,212,213)"/><rect x="1359.20" y="263" width="10.11" height="18" fill="rgb(206,211,213)"/><rect x="1369.27" y="263" width="10.11" height="18" fill="rgb(207,212,213)"/><rect x="1379.33" y="263" width="10.11" height="18" fill="rgb(205,211,212)"/><rect x="1389.39" y="263" width="10.11" height="18" fill="rgb(207,212,213)"/><rect x="1399.45" y="263" width="10.11" height="18" fill="rgb(197,207,210)"/><rect x="1409.51" y="263" width="10.11" height="18" fill="rgb(200,208,211)"/><rect x="1419.57" y="263" width="10.11" height="18" fill="rgb(206,211,213)"/><rect x="1429.63" y="263" width="10.11" height="18" fill="rgb(205,211,212)"/><rect x="1439.69" y="263" width="10.11" height="18" fill="rgb(206,211,213)"/><rect x="1449.76" y="263" width="10.11" height="18" fill="rgb(204,211,212)"/><rect x="1459.82" y="263" width="10.11" height="18" fill="rgb(206,211,213)"/><rect x="1469.88" y="263" width="10.11" height="18" fill="rgb(204,210,212)"/><rect x="1479.94" y="263" width="10.11" height="18" fill="rgb(206,211,213)"/><rect x="504" y="281" width="986" height="20" fill="rgb(206,208,213)"/><rect x="504.00" y="281" width="10.11" height="20" fill="rgb(207,209,213)"/><rect x="514.06" y="281" width="10.11" height="20" fill="rgb(206,207,213)"/><rect x="524.12" y="281" width="10.11" height="20" fill="rgb(205,207,212)"/><rect x="534.18" y="281" width="10.11" height="20" fill="rgb(205,207,213)"/><rect x="544.24" y="281" width="10.11" height="20" fill="rgb(207,209,213)"/><rect x="554.31" y="281" width="10.11" height="20" fill="rgb(205,207,213)"/><rect x="564.37" y="281" width="10.11" height="20" fill="rgb(205,207,213)"/><rect x="574.43" y="281" width="10.11" height="20" fill="rgb(197,200,210)"/><rect x="584.49" y="281" width="10.11" height="20" fill="rgb(206,208,213)"/><rect x="594.55" y="281" width="10.11" height="20" fill="rgb(205,207,212)"/><rect x="604.61" y="281" width="10.11" height="20" fill="rgb(207,209,213)"/><rect x="614.67" y="281" width="10.11" height="20" fill="rgb(204,206,212)"/><rect x="624.73" y="281" width="10.11" height="20" fill="rgb(206,208,213)"/><rect x="634.80" y="281" width="10.11" height="20" fill="rgb(207,209,213)"/><rect x="644.86" y="281" width="10.11" height="20" fill="rgb(207,208,213)"/><rect x="654.92" y="281" width="10.11" height="20" fill="rgb(206,208,213)"/><rect x="664.98" y="281" width="10.11" height="20" fill="rgb(205,207,212)"/><rect x="675.04" y="281" width="10.11" height="20" fill="rgb(206,208,213)"/><rect x="685.10" y="281" width="10.11" height="20" fill="rgb(205,207,212)"/><rect x="695.16" y="281" width="10.11" height="20" fill="rgb(196,200,209)"/><rect x="705.22" y="281" width="10.11" height="20" fill="rgb(197,200,210)"/><rect x="715.29" y="281" width="10.11" height="20" fill="rgb(205,207,213)"/><rect x="725.35" y="281" width="10.11" height="20" fill="rgb(207,209,213)"/><rect x="735.41" y="281" width="10.11" height="20" fill="rgb(206,208,213)"/><rect x="745.47" y="281" width="10.11" height="20" fill="rgb(206,208,213)"/><rect x="755.53" y="281" width="10.11" height="20" fill="rgb(207,209,213)"/><rect x="765.59" y="281" width="10.11" height="20" fill="rgb(207,208,213)"/><rect x="775.65" y="281" width="10.11" height="20" fill="rgb(207,208,213)"/><rect x="785.71" y="281" width="10.11" height="20" fill="rgb(207,208,213)"/><rect x="795.78" y="281" width="10.11" height="20" fill="rgb(207,209,213)"/><rect x="805.84" y="281" width="10.11" height="20" fill="rgb(206,208,213)"/><rect x="815.90" y="281" width="10.11" height="20" fill="rgb(198,201,210)"/><rect x="825.96" y="281" width="10.11" height="20" fill="rgb(206,208,213)"/><rect x="836.02" y="281" width="10.11" height="20" fill="rgb(205,207,213)"/><rect x="846.08" y="281" width="10.11" height="20" fill="rgb(205,207,212)"/><rect x="856.14" y="281" width="10.11" height="20" fill="rgb(205,207,212)"/><rect x="866.20" y="281" width="10.11" height="20" fill="rgb(205,207,212)"/><rect x="876.27" y="281" width="10.11" height="20" fill="rgb(205,207,212)"/><rect x="886.33" y="281" width="10.11" height="20" fill="rgb(207,208,213)"/><rect x="896.39" y="281" width="10.11" height="20" fill="rgb(205,207,212)"/><rect x="906.45" y="281" width="10.11" height="20" fill="rgb(206,208,213)"/><rect x="916.51" y="281" width="10.11" height="20" fill="rgb(205,207,212)"/><rect x="926.57" y="281" width="10.11" height="20" fill="rgb(199,202,210)"/><rect x="936.63" y="281" width="10.11" height="20" fill="rgb(199,202,211)"/><rect x="946.69" y="281" width="10.11" height="20" fill="rgb(205,207,212)"/><rect x="956.76" y="281" width="10.11" height="20" fill="rgb(205,207,213)"/><rect x="966.82" y="281" width="10.11" height="20" fill="rgb(207,209,213)"/><rect x="976.88" y="281" width="10.11" height="20" fill="rgb(205,207,212)"/><rect x="986.94" y="281" width="10.11" height="20" fill="rgb(207,209,213)"/><rect x="997.00" y="281" width="10.11" height="20" fill="rgb(206,208,213)"/><rect x="1007.06" y="281" width="10.11" height="20" fill="rgb(206,208,213)"/><rect x="1017.12" y="281" width="10.11" height="20" fill="rgb(205,207,212)"/><rect x="1027.18" y="281" width="10.11" height="20" fill="rgb(207,209,213)"/><rect x="1037.24" y="281" width="10.11" height="20" fill="rgb(206,208,213)"/><rect x="1047.31" y="281" width="10.11" height="20" fill="rgb(205,207,213)"/><rect x="1057.37" y="281" width="10.11" height="20" fill="rgb(198,201,210)"/><rect x="1067.43" y="281" width="10.11" height="20" fill="rgb(207,209,213)"/><rect x="1077.49" y="281" width="10.11" height="20" fill="rgb(206,208,213)"/><rect x="1087.55" y="281" width="10.11" height="20" fill="rgb(205,207,212)"/><rect x="1097.61" y="281" width="10.11" height="20" fill="rgb(205,207,213)"/><rect x="1107.67" y="281" width="10.11" height="20" fill="rgb(206,208,213)"/><rect x="1117.73" y="281" width="10.11" height="20" fill="rgb(208,209,213)"/><rect x="1127.80" y="281" width="10.11" height="20" fill="rgb(206,208,213)"/><rect x="1137.86" y="281" width="10.11" height="20" fill="rgb(207,209,213)"/><rect x="1147.92" y="281" width="10.11" height="20" fill="rgb(186,191,206)"/><rect x="1157.98" y="281" width="10.11" height="20" fill="rgb(205,207,212)"/><rect x="1168.04" y="281" width="10.11" height="20" fill="rgb(198,201,210)"/><rect x="1178.10" y="281" width="10.11" height="20" fill="rgb(207,209,213)"/><rect x="1188.16" y="281" width="10.11" height="20" fill="rgb(207,209,213)"/><rect x="1198.22" y="281" width="10.11" height="20" fill="rgb(207,209,213)"/><rect x="1208.29" y="281" width="10.11" height="20" fill="rgb(207,209,213)"/><rect x="1218.35" y="281" width="10.11" height="20" fill="rgb(207,209,213)"/><rect x="1228.41" y="281" width="10.11" height="20" fill="rgb(206,208,213)"/><rect x="1238.47" y="281" width="10.11" height="20" fill="rgb(205,207,212)"/><rect x="1248.53" y="281" width="10.11" height="20" fill="rgb(206,208,213)"/><rect x="1258.59" y="281" width="10.11" height="20" fill="rgb(205,207,212)"/><rect x="1268.65" y="281" width="10.11" height="20" fill="rgb(206,208,213)"/><rect x="1278.71" y="281" width="10.11" height="20" fill="rgb(200,203,211)"/><rect x="1288.78" y="281" width="10.11" height="20" fill="rgb(206,208,213)"/><rect x="1298.84" y="281" width="10.11" height="20" fill="rgb(207,208,213)"/><rect x="1308.90" y="281" width="10.11" height="20" fill="rgb(188,193,207)"/><rect x="1318.96" y="281" width="10.11" height="20" fill="rgb(206,208,213)"/><rect x="1329.02" y="281" width="10.11" height="20" fill="rgb(205,207,212)"/><rect x="1339.08" y="281" width="10.11" height="20" fill="rgb(207,209,213)"/><rect x="1349.14" y="281" width="10.11" height="20" fill="rgb(207,208,213)"/><rect x="1359.20" y="281" width="10.11" height="20" fill="rgb(206,208,213)"/><rect x="1369.27" y="281" width="10.11" height="20" fill="rgb(206,207,213)"/><rect x="1379.33" y="281" width="10.11" height="20" fill="rgb(206,208,213)"/><rect x="1389.39" y="281" width="10.11" height="20" fill="rgb(205,207,213)"/><rect x="1399.45" y="281" width="10.11" height="20" fill="rgb(195,198,209)"/><rect x="1409.51" y="281" width="10.11" height="20" fill="rgb(195,199,209)"/><rect x="1419.57" y="281" width="10.11" height="20" fill="rgb(205,207,212)"/><rect x="1429.63" y="281" width="10.11" height="20" fill="rgb(207,208,213)"/><rect x="1439.69" y="281" width="10.11" height="20" fill="rgb(205,207,212)"/><rect x="1449.76" y="281" width="10.11" height="20" fill="rgb(207,209,213)"/><rect x="1459.82" y="281" width="10.11" height="20" fill="rgb(205,207,212)"/><rect x="1469.88" y="281" width="10.11" height="20" fill="rgb(205,207,212)"/><rect x="1479.94" y="281" width="10.11" height="20" fill="rgb(206,208,213)"/><rect x="504" y="301" width="986" height="18" fill="rgb(208,190,190)"/><rect x="504.00" y="301" width="10.11" height="18" fill="rgb(204,179,179)"/><rect x="514.06" y="301" width="10.11" height="18" fill="rgb(209,195,195)"/><rect x="524.12" y="301" width="10.11" height="18" fill="rgb(210,197,197)"/><rect x="534.18" y="301" width="10.11" height="18" fill="rgb(208,192,192)"/><rect x="544.24" y="301" width="10.11" height="18" fill="rgb(207,189,189)"/><rect x="554.31" y="301" width="10.11" height="18" fill="rgb(209,196,196)"/><rect x="564.37" y="301" width="10.11" height="18" fill="rgb(210,196,196)"/><rect x="574.43" y="301" width="10.11" height="18" fill="rgb(209,195,195)"/><rect x="584.49" y="301" width="10.11" height="18" fill="rgb(204,180,180)"/><rect x="594.55" y="301" width="10.11" height="18" fill="rgb(207,190,190)"/><rect x="604.61" y="301" width="10.11" height="18" fill="rgb(209,194,194)"/><rect x="614.67" y="301" width="10.11" height="18" fill="rgb(210,197,197)"/><rect x="624.73" y="301" width="10.11" height="18" fill="rgb(207,190,190)"/><rect x="634.80" y="301" width="10.11" height="18" fill="rgb(210,197,197)"/><rect x="644.86" y="301" width="10.11" height="18" fill="rgb(208,192,192)"/><rect x="654.92" y="301" width="10.11" height="18" fill="rgb(207,190,190)"/><rect x="664.98" y="301" width="10.11" height="18" fill="rgb(210,198,198)"/><rect x="675.04" y="301" width="10.11" height="18" fill="rgb(209,196,196)"/><rect x="685.10" y="301" width="10.11" height="18" fill="rgb(208,191,191)"/><rect x="695.16" y="301" width="10.11" height="18" fill="rgb(209,195,195)"/><rect x="705.22" y="301" width="10.11" height="18" fill="rgb(207,190,190)"/><rect x="715.29" y="301" width="10.11" height="18" fill="rgb(209,194,194)"/><rect x="725.35" y="301" width="10.11" height="18" fill="rgb(208,192,192)"/><rect x="735.41" y="301" width="10.11" height="18" fill="rgb(208,192,192)"/><rect x="745.47" y="301" width="10.11" height="18" fill="rgb(207,190,190)"/><rect x="755.53" y="301" width="10.11" height="18" fill="rgb(207,190,190)"/><rect x="765.59" y="301" width="10.11" height="18" fill="rgb(209,194,194)"/><rect x="775.65" y="301" width="10.11" height="18" fill="rgb(209,194,194)"/><rect x="785.71" y="301" width="10.11" height="18" fill="rgb(210,198,198)"/><rect x="795.78" y="301" width="10.11" height="18" fill="rgb(210,197,197)"/><rect x="805.84" y="301" width="10.11" height="18" fill="rgb(207,190,190)"/><rect x="815.90" y="301" width="10.11" height="18" fill="rgb(208,191,191)"/><rect x="825.96" y="301" width="10.11" height="18" fill="rgb(208,191,191)"/><rect x="836.02" y="301" width="10.11" height="18" fill="rgb(210,196,196)"/><rect x="846.08" y="301" width="10.11" height="18" fill="rgb(209,193,193)"/><rect x="856.14" y="301" width="10.11" height="18" fill="rgb(205,181,181)"/><rect x="866.20" y="301" width="10.11" height="18" fill="rgb(210,197,197)"/><rect x="876.27" y="301" width="10.11" height="18" fill="rgb(208,191,191)"/><rect x="886.33" y="301" width="10.11" height="18" fill="rgb(209,195,195)"/><rect x="896.39" y="301" width="10.11" height="18" fill="rgb(208,193,193)"/><rect x="906.45" y="301" width="10.11" height="18" fill="rgb(207,188,188)"/><rect x="916.51" y="301" width="10.11" height="18" fill="rgb(208,192,192)"/><rect x="926.57" y="301" width="10.11" height="18" fill="rgb(208,191,191)"/><rect x="936.63" y="301" width="10.11" height="18" fill="rgb(207,189,189)"/><rect x="946.69" y="301" width="10.11" height="18" fill="rgb(207,189,189)"/><rect x="956.76" y="301" width="10.11" height="18" fill="rgb(207,190,190)"/><rect x="966.82" y="301" width="10.11" height="18" fill="rgb(206,187,187)"/><rect x="976.88" y="301" width="10.11" height="18" fill="rgb(207,188,188)"/><rect x="986.94" y="301" width="10.11" height="18" fill="rgb(208,192,192)"/><rect x="997.00" y="301" width="10.11" height="18" fill="rgb(207,190,190)"/><rect x="1007.06" y="301" width="10.11" height="18" fill="rgb(208,193,193)"/><rect x="1017.12" y="301" width="10.11" height="18" fill="rgb(208,193,193)"/><rect x="1027.18" y="301" width="10.11" height="18" fill="rgb(209,195,195)"/><rect x="1037.24" y="301" width="10.11" height="18" fill="rgb(209,194,194)"/><rect x="1047.31" y="301" width="10.11" height="18" fill="rgb(207,190,190)"/><rect x="1057.37" y="301" width="10.11" height="18" fill="rgb(209,194,194)"/><rect x="1067.43" y="301" width="10.11" height="18" fill="rgb(208,190,190)"/><rect x="1077.49" y="301" width="10.11" height="18" fill="rgb(209,194,194)"/><rect x="1087.55" y="301" width="10.11" height="18" fill="rgb(206,186,186)"/><rect x="1097.61" y="301" width="10.11" height="18" fill="rgb(209,194,194)"/><rect x="1107.67" y="301" width="10.11" height="18" fill="rgb(208,191,191)"/><rect x="1117.73" y="301" width="10.11" height="18" fill="rgb(207,188,188)"/><rect x="1127.80" y="301" width="10.11" height="18" fill="rgb(206,185,185)"/><rect x="1137.86" y="301" width="10.11" height="18" fill="rgb(207,189,189)"/><rect x="1147.92" y="301" width="10.11" height="18" fill="rgb(207,188,188)"/><rect x="1157.98" y="301" width="10.11" height="18" fill="rgb(201,174,174)"/><rect x="1168.04" y="301" width="10.11" height="18" fill="rgb(206,187,187)"/><rect x="1178.10" y="301" width="10.11" height="18" fill="rgb(206,186,186)"/><rect x="1188.16" y="301" width="10.11" height="18" fill="rgb(195,172,172)"/><rect x="1198.22" y="301" width="10.11" height="18" fill="rgb(208,192,192)"/><rect x="1208.29" y="301" width="10.11" height="18" fill="rgb(208,191,191)"/><rect x="1218.35" y="301" width="10.11" height="18" fill="rgb(208,191,191)"/><rect x="1228.41" y="301" width="10.11" height="18" fill="rgb(208,192,192)"/><rect x="1238.47" y="301" width="10.11" height="18" fill="rgb(203,178,178)"/><rect x="1248.53" y="301" width="10.11" height="18" fill="rgb(208,193,193)"/><rect x="1258.59" y="301" width="10.11" height="18" fill="rgb(203,175,175)"/><rect x="1268.65" y="301" width="10.11" height="18" fill="rgb(206,184,184)"/><rect x="1278.71" y="301" width="10.11" height="18" fill="rgb(208,192,192)"/><rect x="1288.78" y="301" width="10.11" height="18" fill="rgb(206,187,187)"/><rect x="1298.84" y="301" width="10.11" height="18" fill="rgb(205,184,184)"/><rect x="1308.90" y="301" width="10.11" height="18" fill="rgb(203,175,175)"/><rect x="1318.96" y="301" width="10.11" height="18" fill="rgb(208,193,193)"/><rect x="1329.02" y="301" width="10.11" height="18" fill="rgb(207,188,188)"/><rect x="1339.08" y="301" width="10.11" height="18" fill="rgb(206,187,187)"/><rect x="1349.14" y="301" width="10.11" height="18" fill="rgb(208,192,192)"/><rect x="1359.20" y="301" width="10.11" height="18" fill="rgb(208,192,192)"/><rect x="1369.27" y="301" width="10.11" height="18" fill="rgb(207,188,188)"/><rect x="1379.33" y="301" width="10.11" height="18" fill="rgb(208,192,192)"/><rect x="1389.39" y="301" width="10.11" height="18" fill="rgb(206,186,186)"/><rect x="1399.45" y="301" width="10.11" height="18" fill="rgb(206,186,186)"/><rect x="1409.51" y="301" width="10.11" height="18" fill="rgb(205,184,184)"/><rect x="1419.57" y="301" width="10.11" height="18" fill="rgb(208,191,191)"/><rect x="1429.63" y="301" width="10.11" height="18" fill="rgb(208,192,192)"/><rect x="1439.69" y="301" width="10.11" height="18" fill="rgb(208,191,191)"/><rect x="1449.76" y="301" width="10.11" height="18" fill="rgb(208,190,190)"/><rect x="1459.82" y="301" width="10.11" height="18" fill="rgb(207,188,188)"/><rect x="1469.88" y="301" width="10.11" height="18" fill="rgb(203,175,175)"/><rect x="1479.94" y="301" width="10.11" height="18" fill="rgb(206,186,186)"/><rect x="504" y="319" width="986" height="18" fill="rgb(209,202,194)"/><rect x="504.00" y="319" width="10.11" height="18" fill="rgb(208,201,193)"/><rect x="514.06" y="319" width="10.11" height="18" fill="rgb(210,204,198)"/><rect x="524.12" y="319" width="10.11" height="18" fill="rgb(210,204,197)"/><rect x="534.18" y="319" width="10.11" height="18" fill="rgb(209,203,196)"/><rect x="544.24" y="319" width="10.11" height="18" fill="rgb(209,202,193)"/><rect x="554.31" y="319" width="10.11" height="18" fill="rgb(210,204,197)"/><rect x="564.37" y="319" width="10.11" height="18" fill="rgb(210,203,196)"/><rect x="574.43" y="319" width="10.11" height="18" fill="rgb(204,193,180)"/><rect x="584.49" y="319" width="10.11" height="18" fill="rgb(209,203,195)"/><rect x="594.55" y="319" width="10.11" height="18" fill="rgb(205,194,182)"/><rect x="604.61" y="319" width="10.11" height="18" fill="rgb(210,204,198)"/><rect x="614.67" y="319" width="10.11" height="18" fill="rgb(203,190,176)"/><rect x="624.73" y="319" width="10.11" height="18" fill="rgb(208,201,193)"/><rect x="634.80" y="319" width="10.11" height="18" fill="rgb(208,201,192)"/><rect x="644.86" y="319" width="10.11" height="18" fill="rgb(211,205,199)"/><rect x="654.92" y="319" width="10.11" height="18" fill="rgb(203,190,176)"/><rect x="664.98" y="319" width="10.11" height="18" fill="rgb(210,205,199)"/><rect x="675.04" y="319" width="10.11" height="18" fill="rgb(208,201,192)"/><rect x="685.10" y="319" width="10.11" height="18" fill="rgb(210,203,196)"/><rect x="695.16" y="319" width="10.11" height="18" fill="rgb(210,204,197)"/><rect x="705.22" y="319" width="10.11" height="18" fill="rgb(209,203,195)"/><rect x="715.29" y="319" width="10.11" height="18" fill="rgb(210,205,198)"/><rect x="725.35" y="319" width="10.11" height="18" fill="rgb(209,203,195)"/><rect x="735.41" y="319" width="10.11" height="18" fill="rgb(208,201,192)"/><rect x="745.47" y="319" width="10.11" height="18" fill="rgb(208,201,192)"/><rect x="755.53" y="319" width="10.11" height="18" fill="rgb(208,201,193)"/><rect x="765.59" y="319" width="10.11" height="18" fill="rgb(210,204,198)"/><rect x="775.65" y="319" width="10.11" height="18" fill="rgb(210,204,198)"/><rect x="785.71" y="319" width="10.11" height="18" fill="rgb(209,203,195)"/><rect x="795.78" y="319" width="10.11" height="18" fill="rgb(209,203,196)"/><rect x="805.84" y="319" width="10.11" height="18" fill="rgb(208,200,191)"/><rect x="815.90" y="319" width="10.11" height="18" fill="rgb(210,204,197)"/><rect x="825.96" y="319" width="10.11" height="18" fill="rgb(210,205,198)"/><rect x="836.02" y="319" width="10.11" height="18" fill="rgb(208,201,192)"/><rect x="846.08" y="319" width="10.11" height="18" fill="rgb(204,193,180)"/><rect x="856.14" y="319" width="10.11" height="18" fill="rgb(208,201,193)"/><rect x="866.20" y="319" width="10.11" height="18" fill="rgb(208,200,191)"/><rect x="876.27" y="319" width="10.11" height="18" fill="rgb(209,203,195)"/><rect x="886.33" y="319" width="10.11" height="18" fill="rgb(210,204,197)"/><rect x="896.39" y="319" width="10.11" height="18" fill="rgb(208,200,192)"/><rect x="906.45" y="319" width="10.11" height="18" fill="rgb(208,200,191)"/><rect x="916.51" y="319" width="10.11" height="18" fill="rgb(209,203,196)"/><rect x="926.57" y="319" width="10.11" height="18" fill="rgb(208,201,192)"/><rect x="936.63" y="319" width="10.11" height="18" fill="rgb(208,200,191)"/><rect x="946.69" y="319" width="10.11" height="18" fill="rgb(208,200,192)"/><rect x="956.76" y="319" width="10.11" height="18" fill="rgb(208,200,191)"/><rect x="966.82" y="319" width="10.11" height="18" fill="rgb(210,204,197)"/><rect x="976.88" y="319" width="10.11" height="18" fill="rgb(208,200,190)"/><rect x="986.94" y="319" width="10.11" height="18" fill="rgb(208,201,193)"/><rect x="997.00" y="319" width="10.11" height="18" fill="rgb(210,205,198)"/><rect x="1007.06" y="319" width="10.11" height="18" fill="rgb(202,190,175)"/><rect x="1017.12" y="319" width="10.11" height="18" fill="rgb(208,200,191)"/><rect x="1027.18" y="319" width="10.11" height="18" fill="rgb(209,203,196)"/><rect x="1037.24" y="319" width="10.11" height="18" fill="rgb(201,188,174)"/><rect x="1047.31" y="319" width="10.11" height="18" fill="rgb(208,201,193)"/><rect x="1057.37" y="319" width="10.11" height="18" fill="rgb(208,201,193)"/><rect x="1067.43" y="319" width="10.11" height="18" fill="rgb(199,187,173)"/><rect x="1077.49" y="319" width="10.11" height="18" fill="rgb(209,203,196)"/><rect x="1087.55" y="319" width="10.11" height="18" fill="rgb(208,200,192)"/><rect x="1097.61" y="319" width="10.11" height="18" fill="rgb(208,200,191)"/><rect x="1107.67" y="319" width="10.11" height="18" fill="rgb(210,204,197)"/><rect x="1117.73" y="319" width="10.11" height="18" fill="rgb(208,201,192)"/><rect x="1127.80" y="319" width="10.11" height="18" fill="rgb(209,202,194)"/><rect x="1137.86" y="319" width="10.11" height="18" fill="rgb(203,190,176)"/><rect x="1147.92" y="319" width="10.11" height="18" fill="rgb(202,190,175)"/><rect x="1157.98" y="319" width="10.11" height="18" fill="rgb(209,202,194)"/><rect x="1168.04" y="319" width="10.11" height="18" fill="rgb(208,201,193)"/><rect x="1178.10" y="319" width="10.11" height="18" fill="rgb(209,203,196)"/><rect x="1188.16" y="319" width="10.11" height="18" fill="rgb(209,203,196)"/><rect x="1198.22" y="319" width="10.11" height="18" fill="rgb(208,200,192)"/><rect x="1208.29" y="319" width="10.11" height="18" fill="rgb(209,202,194)"/><rect x="1218.35" y="319" width="10.11" height="18" fill="rgb(208,200,191)"/><rect x="1228.41" y="319" width="10.11" height="18" fill="rgb(208,201,193)"/><rect x="1238.47" y="319" width="10.11" height="18" fill="rgb(208,201,193)"/><rect x="1248.53" y="319" width="10.11" height="18" fill="rgb(209,202,195)"/><rect x="1258.59" y="319" width="10.11" height="18" fill="rgb(208,200,191)"/><rect x="1268.65" y="319" width="10.11" height="18" fill="rgb(207,199,189)"/><rect x="1278.71" y="319" width="10.11" height="18" fill="rgb(208,201,192)"/><rect x="1288.78" y="319" width="10.11" height="18" fill="rgb(207,199,189)"/><rect x="1298.84" y="319" width="10.11" height="18" fill="rgb(208,200,191)"/><rect x="1308.90" y="319" width="10.11" height="18" fill="rgb(210,204,197)"/><rect x="1318.96" y="319" width="10.11" height="18" fill="rgb(208,200,191)"/><rect x="1329.02" y="319" width="10.11" height="18" fill="rgb(207,199,190)"/><rect x="1339.08" y="319" width="10.11" height="18" fill="rgb(208,200,192)"/><rect x="1349.14" y="319" width="10.11" height="18" fill="rgb(209,203,195)"/><rect x="1359.20" y="319" width="10.11" height="18" fill="rgb(207,199,189)"/><rect x="1369.27" y="319" width="10.11" height="18" fill="rgb(208,201,192)"/><rect x="1379.33" y="319" width="10.11" height="18" fill="rgb(204,193,180)"/><rect x="1389.39" y="319" width="10.11" height="18" fill="rgb(208,201,193)"/><rect x="1399.45" y="319" width="10.11" height="18" fill="rgb(204,193,181)"/><rect x="1409.51" y="319" width="10.11" height="18" fill="rgb(203,190,176)"/><rect x="1419.57" y="319" width="10.11" height="18" fill="rgb(204,192,178)"/><rect x="1429.63" y="319" width="10.11" height="18" fill="rgb(207,199,190)"/><rect x="1439.69" y="319" width="10.11" height="18" fill="rgb(208,200,191)"/><rect x="1449.76" y="319" width="10.11" height="18" fill="rgb(209,202,195)"/><rect x="1459.82" y="319" width="10.11" height="18" fill="rgb(208,200,191)"/><rect x="1469.88" y="319" width="10.11" height="18" fill="rgb(209,202,195)"/><rect x="1479.94" y="319" width="10.11" height="18" fill="rgb(208,201,192)"/><rect x="504" y="337" width="986" height="18" fill="rgb(208,209,195)"/><rect x="504.00" y="337" width="10.11" height="18" fill="rgb(206,207,190)"/><rect x="514.06" y="337" width="10.11" height="18" fill="rgb(207,208,191)"/><rect x="524.12" y="337" width="10.11" height="18" fill="rgb(206,207,189)"/><rect x="534.18" y="337" width="10.11" height="18" fill="rgb(201,203,176)"/><rect x="544.24" y="337" width="10.11" height="18" fill="rgb(209,210,197)"/><rect x="554.31" y="337" width="10.11" height="18" fill="rgb(208,209,194)"/><rect x="564.37" y="337" width="10.11" height="18" fill="rgb(206,207,190)"/><rect x="574.43" y="337" width="10.11" height="18" fill="rgb(208,209,194)"/><rect x="584.49" y="337" width="10.11" height="18" fill="rgb(208,209,196)"/><rect x="594.55" y="337" width="10.11" height="18" fill="rgb(208,209,194)"/><rect x="604.61" y="337" width="10.11" height="18" fill="rgb(202,204,178)"/><rect x="614.67" y="337" width="10.11" height="18" fill="rgb(202,204,179)"/><rect x="624.73" y="337" width="10.11" height="18" fill="rgb(207,208,191)"/><rect x="634.80" y="337" width="10.11" height="18" fill="rgb(207,208,192)"/><rect x="644.86" y="337" width="10.11" height="18" fill="rgb(206,207,190)"/><rect x="654.92" y="337" width="10.11" height="18" fill="rgb(206,208,190)"/><rect x="664.98" y="337" width="10.11" height="18" fill="rgb(202,203,178)"/><rect x="675.04" y="337" width="10.11" height="18" fill="rgb(208,209,193)"/><rect x="685.10" y="337" width="10.11" height="18" fill="rgb(207,208,193)"/><rect x="695.16" y="337" width="10.11" height="18" fill="rgb(206,207,189)"/><rect x="705.22" y="337" width="10.11" height="18" fill="rgb(207,208,192)"/><rect x="715.29" y="337" width="10.11" height="18" fill="rgb(204,205,183)"/><rect x="725.35" y="337" width="10.11" height="18" fill="rgb(208,209,193)"/><rect x="735.41" y="337" width="10.11" height="18" fill="rgb(207,208,191)"/><rect x="745.47" y="337" width="10.11" height="18" fill="rgb(206,207,189)"/><rect x="755.53" y="337" width="10.11" height="18" fill="rgb(209,209,196)"/><rect x="765.59" y="337" width="10.11" height="18" fill="rgb(206,208,191)"/><rect x="775.65" y="337" width="10.11" height="18" fill="rgb(206,207,190)"/><rect x="785.71" y="337" width="10.11" height="18" fill="rgb(208,209,194)"/><rect x="795.78" y="337" width="10.11" height="18" fill="rgb(207,208,191)"/><rect x="805.84" y="337" width="10.11" height="18" fill="rgb(209,210,197)"/><rect x="815.90" y="337" width="10.11" height="18" fill="rgb(208,209,194)"/><rect x="825.96" y="337" width="10.11" height="18" fill="rgb(207,208,192)"/><rect x="836.02" y="337" width="10.11" height="18" fill="rgb(207,208,191)"/><rect x="846.08" y="337" width="10.11" height="18" fill="rgb(209,210,197)"/><rect x="856.14" y="337" width="10.11" height="18" fill="rgb(209,210,197)"/><rect x="866.20" y="337" width="10.11" height="18" fill="rgb(202,203,178)"/><rect x="876.27" y="337" width="10.11" height="18" fill="rgb(207,208,192)"/><rect x="886.33" y="337" width="10.11" height="18" fill="rgb(207,208,191)"/><rect x="896.39" y="337" width="10.11" height="18" fill="rgb(207,208,192)"/><rect x="906.45" y="337" width="10.11" height="18" fill="rgb(207,208,192)"/><rect x="916.51" y="337" width="10.11" height="18" fill="rgb(202,204,180)"/><rect x="926.57" y="337" width="10.11" height="18" fill="rgb(208,209,194)"/><rect x="936.63" y="337" width="10.11" height="18" fill="rgb(208,209,195)"/><rect x="946.69" y="337" width="10.11" height="18" fill="rgb(208,209,195)"/><rect x="956.76" y="337" width="10.11" height="18" fill="rgb(210,210,199)"/><rect x="966.82" y="337" width="10.11" height="18" fill="rgb(208,209,193)"/><rect x="976.88" y="337" width="10.11" height="18" fill="rgb(207,209,193)"/><rect x="986.94" y="337" width="10.11" height="18" fill="rgb(209,210,197)"/><rect x="997.00" y="337" width="10.11" height="18" fill="rgb(210,210,199)"/><rect x="1007.06" y="337" width="10.11" height="18" fill="rgb(207,208,192)"/><rect x="1017.12" y="337" width="10.11" height="18" fill="rgb(208,209,195)"/><rect x="1027.18" y="337" width="10.11" height="18" fill="rgb(208,209,194)"/><rect x="1037.24" y="337" width="10.11" height="18" fill="rgb(209,210,198)"/><rect x="1047.31" y="337" width="10.11" height="18" fill="rgb(208,209,194)"/><rect x="1057.37" y="337" width="10.11" height="18" fill="rgb(208,209,194)"/><rect x="1067.43" y="337" width="10.11" height="18" fill="rgb(209,209,196)"/><rect x="1077.49" y="337" width="10.11" height="18" fill="rgb(207,208,192)"/><rect x="1087.55" y="337" width="10.11" height="18" fill="rgb(202,203,178)"/><rect x="1097.61" y="337" width="10.11" height="18" fill="rgb(209,209,196)"/><rect x="1107.67" y="337" width="10.11" height="18" fill="rgb(209,210,196)"/><rect x="1117.73" y="337" width="10.11" height="18" fill="rgb(210,211,200)"/><rect x="1127.80" y="337" width="10.11" height="18" fill="rgb(207,208,193)"/><rect x="1137.86" y="337" width="10.11" height="18" fill="rgb(209,210,197)"/><rect x="1147.92" y="337" width="10.11" height="18" fill="rgb(209,209,196)"/><rect x="1157.98" y="337" width="10.11" height="18" fill="rgb(208,209,195)"/><rect x="1168.04" y="337" width="10.11" height="18" fill="rgb(208,209,196)"/><rect x="1178.10" y="337" width="10.11" height="18" fill="rgb(210,211,200)"/><rect x="1188.16" y="337" width="10.11" height="18" fill="rgb(210,211,201)"/><rect x="1198.22" y="337" width="10.11" height="18" fill="rgb(209,210,197)"/><rect x="1208.29" y="337" width="10.11" height="18" fill="rgb(210,210,199)"/><rect x="1218.35" y="337" width="10.11" height="18" fill="rgb(210,211,200)"/><rect x="1228.41" y="337" width="10.11" height="18" fill="rgb(209,210,197)"/><rect x="1238.47" y="337" width="10.11" height="18" fill="rgb(208,209,195)"/><rect x="1248.53" y="337" width="10.11" height="18" fill="rgb(208,209,193)"/><rect x="1258.59" y="337" width="10.11" height="18" fill="rgb(211,211,202)"/><rect x="1268.65" y="337" width="10.11" height="18" fill="rgb(208,209,195)"/><rect x="1278.71" y="337" width="10.11" height="18" fill="rgb(209,210,197)"/><rect x="1288.78" y="337" width="10.11" height="18" fill="rgb(209,210,197)"/><rect x="1298.84" y="337" width="10.11" height="18" fill="rgb(211,211,202)"/><rect x="1308.90" y="337" width="10.11" height="18" fill="rgb(205,206,187)"/><rect x="1318.96" y="337" width="10.11" height="18" fill="rgb(202,204,179)"/><rect x="1329.02" y="337" width="10.11" height="18" fill="rgb(208,209,194)"/><rect x="1339.08" y="337" width="10.11" height="18" fill="rgb(208,209,194)"/><rect x="1349.14" y="337" width="10.11" height="18" fill="rgb(209,210,198)"/><rect x="1359.20" y="337" width="10.11" height="18" fill="rgb(209,209,196)"/><rect x="1369.27" y="337" width="10.11" height="18" fill="rgb(210,211,201)"/><rect x="1379.33" y="337" width="10.11" height="18" fill="rgb(209,210,197)"/><rect x="1389.39" y="337" width="10.11" height="18" fill="rgb(210,211,200)"/><rect x="1399.45" y="337" width="10.11" height="18" fill="rgb(209,210,197)"/><rect x="1409.51" y="337" width="10.11" height="18" fill="rgb(209,210,198)"/><rect x="1419.57" y="337" width="10.11" height="18" fill="rgb(208,209,195)"/><rect x="1429.63" y="337" width="10.11" height="18" fill="rgb(208,209,194)"/><rect x="1439.69" y="337" width="10.11" height="18" fill="rgb(208,209,196)"/><rect x="1449.76" y="337" width="10.11" height="18" fill="rgb(208,209,194)"/><rect x="1459.82" y="337" width="10.11" height="18" fill="rgb(208,209,194)"/><rect x="1469.88" y="337" width="10.11" height="18" fill="rgb(208,209,195)"/><rect x="1479.94" y="337" width="10.11" height="18" fill="rgb(208,209,196)"/><rect x="504" y="355" width="986" height="20" fill="rgb(202,210,197)"/><rect x="504.00" y="355" width="10.11" height="20" fill="rgb(200,209,195)"/><rect x="514.06" y="355" width="10.11" height="20" fill="rgb(199,208,193)"/><rect x="524.12" y="355" width="10.11" height="20" fill="rgb(185,202,174)"/><rect x="534.18" y="355" width="10.11" height="20" fill="rgb(198,208,191)"/><rect x="544.24" y="355" width="10.11" height="20" fill="rgb(200,209,195)"/><rect x="554.31" y="355" width="10.11" height="20" fill="rgb(198,208,192)"/><rect x="564.37" y="355" width="10.11" height="20" fill="rgb(200,209,195)"/><rect x="574.43" y="355" width="10.11" height="20" fill="rgb(203,210,198)"/><rect x="584.49" y="355" width="10.11" height="20" fill="rgb(197,208,191)"/><rect x="594.55" y="355" width="10.11" height="20" fill="rgb(202,210,196)"/><rect x="604.61" y="355" width="10.11" height="20" fill="rgb(199,208,193)"/><rect x="614.67" y="355" width="10.11" height="20" fill="rgb(203,210,198)"/><rect x="624.73" y="355" width="10.11" height="20" fill="rgb(200,209,194)"/><rect x="634.80" y="355" width="10.11" height="20" fill="rgb(202,210,197)"/><rect x="644.86" y="355" width="10.11" height="20" fill="rgb(197,207,190)"/><rect x="654.92" y="355" width="10.11" height="20" fill="rgb(198,208,191)"/><rect x="664.98" y="355" width="10.11" height="20" fill="rgb(186,203,176)"/><rect x="675.04" y="355" width="10.11" height="20" fill="rgb(201,209,195)"/><rect x="685.10" y="355" width="10.11" height="20" fill="rgb(185,201,174)"/><rect x="695.16" y="355" width="10.11" height="20" fill="rgb(186,202,175)"/><rect x="705.22" y="355" width="10.11" height="20" fill="rgb(202,210,197)"/><rect x="715.29" y="355" width="10.11" height="20" fill="rgb(203,210,198)"/><rect x="725.35" y="355" width="10.11" height="20" fill="rgb(202,210,197)"/><rect x="735.41" y="355" width="10.11" height="20" fill="rgb(198,208,191)"/><rect x="745.47" y="355" width="10.11" height="20" fill="rgb(200,209,194)"/><rect x="755.53" y="355" width="10.11" height="20" fill="rgb(199,208,192)"/><rect x="765.59" y="355" width="10.11" height="20" fill="rgb(197,207,190)"/><rect x="775.65" y="355" width="10.11" height="20" fill="rgb(199,208,192)"/><rect x="785.71" y="355" width="10.11" height="20" fill="rgb(200,209,194)"/><rect x="795.78" y="355" width="10.11" height="20" fill="rgb(203,210,198)"/><rect x="805.84" y="355" width="10.11" height="20" fill="rgb(202,209,196)"/><rect x="815.90" y="355" width="10.11" height="20" fill="rgb(199,208,193)"/><rect x="825.96" y="355" width="10.11" height="20" fill="rgb(199,209,193)"/><rect x="836.02" y="355" width="10.11" height="20" fill="rgb(187,203,176)"/><rect x="846.08" y="355" width="10.11" height="20" fill="rgb(203,210,198)"/><rect x="856.14" y="355" width="10.11" height="20" fill="rgb(202,210,197)"/><rect x="866.20" y="355" width="10.11" height="20" fill="rgb(198,208,192)"/><rect x="876.27" y="355" width="10.11" height="20" fill="rgb(200,209,194)"/><rect x="886.33" y="355" width="10.11" height="20" fill="rgb(198,208,191)"/><rect x="896.39" y="355" width="10.11" height="20" fill="rgb(201,209,195)"/><rect x="906.45" y="355" width="10.11" height="20" fill="rgb(202,210,197)"/><rect x="916.51" y="355" width="10.11" height="20" fill="rgb(200,209,193)"/><rect x="926.57" y="355" width="10.11" height="20" fill="rgb(200,209,195)"/><rect x="936.63" y="355" width="10.11" height="20" fill="rgb(199,208,193)"/><rect x="946.69" y="355" width="10.11" height="20" fill="rgb(201,209,196)"/><rect x="956.76" y="355" width="10.11" height="20" fill="rgb(200,209,194)"/><rect x="966.82" y="355" width="10.11" height="20" fill="rgb(204,210,199)"/><rect x="976.88" y="355" width="10.11" height="20" fill="rgb(201,209,195)"/><rect x="986.94" y="355" width="10.11" height="20" fill="rgb(205,211,202)"/><rect x="997.00" y="355" width="10.11" height="20" fill="rgb(200,209,194)"/><rect x="1007.06" y="355" width="10.11" height="20" fill="rgb(206,211,202)"/><rect x="1017.12" y="355" width="10.11" height="20" fill="rgb(204,210,199)"/><rect x="1027.18" y="355" width="10.11" height="20" fill="rgb(204,210,199)"/><rect x="1037.24" y="355" width="10.11" height="20" fill="rgb(204,210,199)"/><rect x="1047.31" y="355" width="10.11" height="20" fill="rgb(205,211,201)"/><rect x="1057.37" y="355" width="10.11" height="20" fill="rgb(203,210,198)"/><rect x="1067.43" y="355" width="10.11" height="20" fill="rgb(200,209,195)"/><rect x="1077.49" y="355" width="10.11" height="20" fill="rgb(204,211,200)"/><rect x="1087.55" y="355" width="10.11" height="20" fill="rgb(204,211,200)"/><rect x="1097.61" y="355" width="10.11" height="20" fill="rgb(202,210,198)"/><rect x="1107.67" y="355" width="10.11" height="20" fill="rgb(204,211,200)"/><rect x="1117.73" y="355" width="10.11" height="20" fill="rgb(204,210,199)"/><rect x="1127.80" y="355" width="10.11" height="20" fill="rgb(193,205,184)"/><rect x="1137.86" y="355" width="10.11" height="20" fill="rgb(204,211,200)"/><rect x="1147.92" y="355" width="10.11" height="20" fill="rgb(201,209,196)"/><rect x="1157.98" y="355" width="10.11" height="20" fill="rgb(207,212,204)"/><rect x="1168.04" y="355" width="10.11" height="20" fill="rgb(203,210,198)"/><rect x="1178.10" y="355" width="10.11" height="20" fill="rgb(208,212,204)"/><rect x="1188.16" y="355" width="10.11" height="20" fill="rgb(207,212,203)"/><rect x="1198.22" y="355" width="10.11" height="20" fill="rgb(208,212,205)"/><rect x="1208.29" y="355" width="10.11" height="20" fill="rgb(202,210,197)"/><rect x="1218.35" y="355" width="10.11" height="20" fill="rgb(205,211,201)"/><rect x="1228.41" y="355" width="10.11" height="20" fill="rgb(207,212,203)"/><rect x="1238.47" y="355" width="10.11" height="20" fill="rgb(204,211,200)"/><rect x="1248.53" y="355" width="10.11" height="20" fill="rgb(201,209,196)"/><rect x="1258.59" y="355" width="10.11" height="20" fill="rgb(206,211,202)"/><rect x="1268.65" y="355" width="10.11" height="20" fill="rgb(206,212,203)"/><rect x="1278.71" y="355" width="10.11" height="20" fill="rgb(204,211,200)"/><rect x="1288.78" y="355" width="10.11" height="20" fill="rgb(202,210,197)"/><rect x="1298.84" y="355" width="10.11" height="20" fill="rgb(205,211,201)"/><rect x="1308.90" y="355" width="10.11" height="20" fill="rgb(190,204,180)"/><rect x="1318.96" y="355" width="10.11" height="20" fill="rgb(202,210,197)"/><rect x="1329.02" y="355" width="10.11" height="20" fill="rgb(207,212,203)"/><rect x="1339.08" y="355" width="10.11" height="20" fill="rgb(205,211,200)"/><rect x="1349.14" y="355" width="10.11" height="20" fill="rgb(206,212,203)"/><rect x="1359.20" y="355" width="10.11" height="20" fill="rgb(203,210,199)"/><rect x="1369.27" y="355" width="10.11" height="20" fill="rgb(201,209,195)"/><rect x="1379.33" y="355" width="10.11" height="20" fill="rgb(207,212,203)"/><rect x="1389.39" y="355" width="10.11" height="20" fill="rgb(202,209,196)"/><rect x="1399.45" y="355" width="10.11" height="20" fill="rgb(203,210,199)"/><rect x="1409.51" y="355" width="10.11" height="20" fill="rgb(205,211,201)"/><rect x="1419.57" y="355" width="10.11" height="20" fill="rgb(201,209,196)"/><rect x="1429.63" y="355" width="10.11" height="20" fill="rgb(202,210,197)"/><rect x="1439.69" y="355" width="10.11" height="20" fill="rgb(207,212,204)"/><rect x="1449.76" y="355" width="10.11" height="20" fill="rgb(202,210,197)"/><rect x="1459.82" y="355" width="10.11" height="20" fill="rgb(204,210,199)"/><rect x="1469.88" y="355" width="10.11" height="20" fill="rgb(194,206,187)"/><rect x="1479.94" y="355" width="10.11" height="20" fill="rgb(203,210,198)"/><rect x="624" y="227" width="4" height="18" fill="#c9efca"/><rect x="624" y="245" width="4" height="18" fill="#cdf0e1"/><rect x="624" y="263" width="4" height="18" fill="#d8ecf4"/><rect x="624" y="281" width="4" height="20" fill="#c9d1ef"/><rect x="624" y="301" width="4" height="18" fill="#c5444b"/><rect x="624" y="319" width="4" height="18" fill="#e4c19b"/><rect x="624" y="337" width="4" height="18" fill="#b1b53d"/><rect x="624" y="355" width="4" height="20" fill="#b5e5a1"/><rect x="622" y="227" width="2" height="148" fill="#8c8c8c"/><rect x="628" y="227" width="2" height="148" fill="#8c8c8c"/></svg>
<div class="r" style="left:502px;top:227px;width:2px;height:148px;background:#d3d3d3;"></div>
<div class="r" style="left:4px;top:375px;width:1516px;height:2px;background:#d6d6d6;"></div>
<div class="r" style="left:4px;top:81px;width:1516px;height:96px;background:#f2f2f2;box-shadow:0 4px 16px rgba(0,0,0,0.2);"></div>
<div class="r" style="left:4px;top:81px;width:96px;height:96px;background:#262f3c;border-radius:0 7px 7px 0;"></div>
<div class="r" style="left:34px;top:128px;width:36px;height:4px;background:#ffffff;"></div>
<div class="r" style="left:34px;top:138px;width:36px;height:4px;background:#ffffff;"></div>
<div class="r" style="left:34px;top:148px;width:36px;height:4px;background:#ffffff;"></div>
<div class="r" style="left:162px;top:95px;width:1200.5px;height:68px;background:#fcfcfc;border-radius:34px;"></div>
<svg class="r" style="left:172px;top:105px" width="48" height="48" viewBox="0 0 24 24"><path fill="#aaaaaa" d="M15.5 14h-.79l-.28-.27C15.41 12.59 16 11.11 16 9.5 16 5.91 13.09 3 9.5 3S3 5.91 3 9.5 5.91 16 9.5 16c1.61 0 3.09-.59 4.23-1.57l.27.28v.79l5 4.99L20.49 19l-4.99-5zm-6 0C7.01 14 5 11.99 5 9.5S7.01 5 9.5 5 14 7.01 14 9.5 11.99 14 9.5 14z"/></svg>
<span class="t" style="left:249.20px;top:111.00px;font-size:35px;line-height:35px;color:#bcbfc2;transform:scaleX(1.0424);">Search</span>
<svg class="r" style="left:1451.3px;top:104.5px" width="48" height="48" viewBox="0 0 24 24"><path fill="#ec6b02" d="M20 2H4c-1.1 0-1.99.9-1.99 2L2 22l4-4h14c1.1 0 2-.9 2-2V4c0-1.1-.9-2-2-2zm-7 9h-2V5h2v6zm0 4h-2v-2h2v2z"/></svg>
<span class="t" style="left:16.40px;top:380.00px;font-size:23px;line-height:23px;color:#989898;transform:scaleX(0.9119);">47001.4 s +</span>
<span class="t" style="left:465.00px;top:380.00px;font-size:23px;line-height:23px;color:#989898;transform:scaleX(0.8735);">1 s</span>
<svg class="r" style="left:498px;top:377px" width="8" height="95" viewBox="498 377 8 95"><rect x="500" y="377" width="4" height="94" fill="#999"/></svg>
<div class="r" style="left:610px;top:377px;width:2px;height:95px;background:#999999;"></div>
<div class="r" style="left:748px;top:377px;width:2px;height:95px;background:#999999;"></div>
<div class="r" style="left:884px;top:377px;width:2px;height:95px;background:#999999;"></div>
<div class="r" style="left:1022px;top:377px;width:2px;height:95px;background:#999999;"></div>
<div class="r" style="left:1158px;top:377px;width:2px;height:95px;background:#999999;"></div>
<div class="r" style="left:1296px;top:377px;width:2px;height:95px;background:#999999;"></div>
<div class="r" style="left:1432px;top:377px;width:2px;height:95px;background:#999999;"></div>
<span class="t" style="left:620.30px;top:382.00px;font-size:18.5px;line-height:18.5px;color:#999999;transform:scaleX(0.9529);">+1.6 ms</span>
<span class="t" style="left:758.30px;top:382.00px;font-size:18.5px;line-height:18.5px;color:#999999;transform:scaleX(0.9529);">+3.6 ms</span>
<span class="t" style="left:894.30px;top:382.00px;font-size:18.5px;line-height:18.5px;color:#999999;transform:scaleX(0.9529);">+5.6 ms</span>
<span class="t" style="left:1032.30px;top:382.00px;font-size:18.5px;line-height:18.5px;color:#999999;transform:scaleX(0.9529);">+7.6 ms</span>
<span class="t" style="left:1168.30px;top:382.00px;font-size:18.5px;line-height:18.5px;color:#999999;transform:scaleX(0.9529);">+9.6 ms</span>
<span class="t" style="left:1306.30px;top:382.00px;font-size:18.5px;line-height:18.5px;color:#999999;transform:scaleX(0.9663);">+11.6 ms</span>
<span class="t" style="left:1442.30px;top:382.00px;font-size:18.5px;line-height:18.5px;color:#999999;transform:scaleX(0.9335);">+13.6</span>
<svg class="r" style="left:618px;top:416.8px" width="48" height="48" viewBox="0 0 24 24"><path fill="#aaaaaa" d="M14.4 6L14 4H5v17h2v-7h5.6l.4 2h7V6z"/></svg>
<span class="t" style="left:25.00px;top:536.00px;font-size:29px;line-height:29px;color:#36465a;transform:scaleX(0.7948);-webkit-text-stroke:0.45px #fff;">inference 1709</span>
<svg class="r" style="left:458.2px;top:536.7px" width="36" height="36" viewBox="0 0 24 24"><path fill="#3c5688" d="M12 17.27L18.18 21l-1.64-7.03L22 9.24l-7.19-.61L12 2 9.19 8.63 2 9.24l5.46 4.73L5.82 21z"/></svg>
<div class="r" style="left:504px;top:473px;width:986px;height:48px;background:#7bd1a4;box-sizing:border-box;border:6px solid #24744a;border-left-width:3px;border-right-width:3px;"></div>
<div class="r" style="left:504px;top:521px;width:986px;height:30px;background:#7ad28b;"></div>
<div class="r" style="left:504px;top:551px;width:986px;height:36px;background:#80d27c;"></div>
<div class="r" style="left:504px;top:587px;width:986px;height:36px;background:#cfca74;"></div>
<div class="r" style="left:504px;top:587px;width:6px;height:36px;background:#d3c977;"></div>
<div class="r" style="left:510px;top:587px;width:149px;height:36px;background:#d2d079;"></div>
<div class="r" style="left:659px;top:587px;width:1.6px;height:36px;background:#e9e6b4;"></div>
<div class="r" style="left:660.2px;top:587px;width:128.3px;height:36px;background:#cfca74;"></div>
<div class="r" style="left:788.5px;top:587px;width:1px;height:36px;background:#d6d285;"></div>
<div class="r" style="left:789.5px;top:587px;width:177.5px;height:36px;background:#cfcb75;"></div>
<div class="r" style="left:966.8px;top:587px;width:1.8px;height:36px;background:#e9e6b4;"></div>
<div class="r" style="left:968.2px;top:587px;width:197.3px;height:36px;background:#d2d079;"></div>
<div class="r" style="left:1165.5px;top:587px;width:184px;height:36px;background:#cfca74;"></div>
<div class="r" style="left:1349.3px;top:587px;width:1px;height:36px;background:#dcb070;"></div>
<div class="r" style="left:1350.3px;top:587px;width:139.7px;height:36px;background:#d0cb75;"></div>
<span class="t" style="left:922.00px;top:484.00px;font-size:24px;line-height:24px;color:#ffffff;transform:scaleX(0.8784);">recognizeImage</span>
<span class="t" style="left:938.00px;top:520.00px;font-size:24px;line-height:24px;color:#ffffff;transform:scaleX(0.8756);">runInference</span>
<span class="t" style="left:938.50px;top:556.00px;font-size:24px;line-height:24px;color:#ffffff;transform:scaleX(0.8660);">invoke@-1/0</span>
<span class="t" style="left:518.30px;top:592.00px;font-size:24px;line-height:24px;color:#ffffff;transform:scaleX(0.8126);">DEPTHWISE...</span>
<span class="t" style="left:670.70px;top:592.00px;font-size:24px;line-height:24px;color:#ffffff;transform:scaleX(0.8045);">CONV_2D...</span>
<span class="t" style="left:801.00px;top:592.00px;font-size:24px;line-height:24px;color:#ffffff;transform:scaleX(0.8273);">CONV_2D@31/0</span>
<span class="t" style="left:974.60px;top:592.00px;font-size:24px;line-height:24px;color:#ffffff;transform:scaleX(0.8022);">DEPTHWISE_CON...</span>
<span class="t" style="left:1180.60px;top:592.00px;font-size:24px;line-height:24px;color:#ffffff;transform:scaleX(0.8263);">CONV_2D@33/0</span>
<span class="t" style="left:1356.40px;top:592.00px;font-size:24px;line-height:24px;color:#ffffff;transform:scaleX(0.8013);">CONV_2D@...</span>
<div class="r" style="left:4px;top:629px;width:1516px;height:417px;background:#ffffff;"></div>
<div class="r" style="left:610px;top:623px;width:2px;height:423px;background:rgba(0,0,0,0.135);"></div>
<div class="r" style="left:748px;top:623px;width:2px;height:423px;background:rgba(0,0,0,0.135);"></div>
<div class="r" style="left:884px;top:623px;width:2px;height:423px;background:rgba(0,0,0,0.135);"></div>
<div class="r" style="left:1022px;top:623px;width:2px;height:423px;background:rgba(0,0,0,0.135);"></div>
<div class="r" style="left:1158px;top:623px;width:2px;height:423px;background:rgba(0,0,0,0.135);"></div>
<div class="r" style="left:1296px;top:623px;width:2px;height:423px;background:rgba(0,0,0,0.135);"></div>
<div class="r" style="left:1432px;top:623px;width:2px;height:423px;background:rgba(0,0,0,0.135);"></div>
<div class="r" style="left:4px;top:696px;width:1501px;height:2px;background:rgba(0,0,0,0.17);"></div>
<div class="r" style="left:4px;top:756px;width:1501px;height:2px;background:rgba(0,0,0,0.17);"></div>
<div class="r" style="left:4px;top:816px;width:1501px;height:2px;background:rgba(0,0,0,0.17);"></div>
<div class="r" style="left:4px;top:876px;width:1501px;height:2px;background:rgba(0,0,0,0.17);"></div>
<div class="r" style="left:4px;top:936px;width:1501px;height:2px;background:rgba(0,0,0,0.17);"></div>
<div class="r" style="left:4px;top:996px;width:1501px;height:2px;background:rgba(0,0,0,0.17);"></div>
<span class="t" style="left:25.00px;top:653.00px;font-size:29px;line-height:29px;color:#36465a;transform:scaleX(0.7559);-webkit-text-stroke:0.45px #fff;">Cpu 1</span>
<span class="t" style="left:25.00px;top:713.00px;font-size:29px;line-height:29px;color:#36465a;transform:scaleX(0.7559);-webkit-text-stroke:0.45px #fff;">Cpu 2</span>
<span class="t" style="left:25.00px;top:773.00px;font-size:29px;line-height:29px;color:#36465a;transform:scaleX(0.7559);-webkit-text-stroke:0.45px #fff;">Cpu 3</span>
<span class="t" style="left:25.00px;top:833.00px;font-size:29px;line-height:29px;color:#36465a;transform:scaleX(0.7559);-webkit-text-stroke:0.45px #fff;">Cpu 4</span>
<span class="t" style="left:25.00px;top:893.00px;font-size:29px;line-height:29px;color:#36465a;transform:scaleX(0.7559);-webkit-text-stroke:0.45px #fff;">Cpu 5</span>
<span class="t" style="left:25.00px;top:953.00px;font-size:29px;line-height:29px;color:#36465a;transform:scaleX(0.7559);-webkit-text-stroke:0.45px #fff;">Cpu 6</span>
<span class="t" style="left:25.00px;top:1013.00px;font-size:29px;line-height:29px;color:#36465a;transform:scaleX(0.7559);-webkit-text-stroke:0.45px #fff;">Cpu 7</span>
<svg class="r" style="left:0;top:638px" width="1524" height="408" viewBox="0 638 1524 408"><rect x="694" y="644" width="7" height="48" fill="#e05a50"/><rect x="707" y="644" width="2" height="48" fill="#e05a50"/><rect x="726" y="644" width="4" height="48" fill="#da5787"/><rect x="739" y="644" width="5.5" height="48" fill="#e05a50"/><rect x="754" y="644" width="2" height="48" fill="#e05a50"/><rect x="925" y="644" width="7" height="48" fill="#e05a50"/><rect x="970" y="644" width="6" height="48" fill="#e05a50"/><rect x="997.5" y="644" width="2.5" height="48" fill="#e05a50"/><rect x="1116" y="644" width="3" height="48" fill="#da5787"/><rect x="1133" y="644" width="2.5" height="48" fill="#da5787"/><rect x="1161" y="644" width="6.5" height="48" fill="#e05a50"/><rect x="1172" y="644" width="2" height="48" fill="#e05a50"/><rect x="1254" y="644" width="9" height="48" fill="#6e76b2"/><rect x="1420" y="644" width="2" height="48" fill="#da5787"/><rect x="1432.5" y="644" width="7.5" height="48" fill="#e05a50"/><rect x="1449" y="644" width="2" height="48" fill="#e05a50"/><rect x="527" y="704" width="8" height="48" fill="#da5787"/><rect x="619" y="704" width="4.5" height="48" fill="#a94cbe"/><rect x="699.5" y="704" width="9" height="48" fill="#e05a50"/><rect x="724" y="704" width="5" height="48" fill="#da5787"/><rect x="749.5" y="704" width="9.5" height="48" fill="#9ab476"/><rect x="975.5" y="704" width="2" height="48" fill="#e05a50"/><rect x="999" y="704" width="2" height="48" fill="#e05a50"/><rect x="1112.5" y="704" width="6.5" height="48" fill="#da5787"/><rect x="1131.5" y="704" width="2" height="48" fill="#da5787"/><rect x="1136" y="704" width="11" height="48" fill="#e05a50"/><rect x="1155.5" y="704" width="10.5" height="48" fill="#9ab476"/><rect x="1169.5" y="704" width="5.5" height="48" fill="#9ab476"/><rect x="1312" y="704" width="6.5" height="48" fill="#a94cbe"/><rect x="1417.5" y="704" width="4" height="48" fill="#da5787"/><rect x="1444.5" y="704" width="10" height="48" fill="#9ab476"/><rect x="729" y="764" width="7.5" height="48" fill="#e05a50"/><rect x="742" y="764" width="11.5" height="48" fill="#9ab476"/><rect x="979.5" y="764" width="2.5" height="48" fill="#ebbf46"/><rect x="1119" y="764" width="13.5" height="48" fill="#e05a50"/><rect x="1132.5" y="764" width="3" height="48" fill="#da5787"/><rect x="1143" y="764" width="17.5" height="48" fill="#9ab476"/><rect x="1165" y="764" width="7.5" height="48" fill="#9ab476"/><rect x="1422.5" y="764" width="8.5" height="48" fill="#e05a50"/><rect x="1438" y="764" width="11" height="48" fill="#9ab476"/><rect x="504" y="824" width="986" height="48" fill="#ea6b48"/><rect x="507" y="824" width="1" height="48" fill="#da5787"/><rect x="850.5" y="824" width="1.5" height="48" fill="#da5787"/><rect x="860" y="824" width="1" height="48" fill="#f08a70"/><rect x="885" y="824" width="1.5" height="48" fill="#da5787"/><rect x="1114.5" y="824" width="1.5" height="48" fill="#da5787"/><rect x="1192.5" y="824" width="2" height="48" fill="#da5787"/><rect x="1194.5" y="824" width="7" height="48" fill="#ec7350"/><rect x="1201.5" y="824" width="1.5" height="48" fill="#da5787"/><rect x="528" y="884" width="12.5" height="48" fill="#ebbf46"/><rect x="661.5" y="884" width="2" height="48" fill="#da5787"/><rect x="733.5" y="884" width="51.5" height="48" fill="#ea6b48"/><rect x="742" y="884" width="4" height="48" fill="#e05a50"/><rect x="748" y="884" width="1" height="48" fill="#f08a70"/><rect x="751.5" y="884" width="1" height="48" fill="#f08a70"/><rect x="829" y="884" width="5" height="48" fill="#ebbf46"/><rect x="838.5" y="884" width="2.5" height="48" fill="#ebbf46"/><rect x="848" y="884" width="13" height="48" fill="#ebbf46"/><rect x="855" y="884" width="1" height="48" fill="#f2d27a"/><rect x="935.5" y="884" width="3.5" height="48" fill="#da5787"/><rect x="952" y="884" width="2" height="48" fill="#ebbf46"/><rect x="956.5" y="884" width="2" height="48" fill="#da5787"/><rect x="966.5" y="884" width="2" height="48" fill="#da5787"/><rect x="974.5" y="884" width="2" height="48" fill="#da5787"/><rect x="1039.5" y="884" width="2.5" height="48" fill="#ea6b48"/><rect x="1115" y="884" width="2" height="48" fill="#da5787"/><rect x="1135" y="884" width="6.5" height="48" fill="#e05a50"/><rect x="1138.5" y="884" width="1" height="48" fill="#ea6b48"/><rect x="1165.5" y="884" width="3.5" height="48" fill="#ebbf46"/><rect x="1173.5" y="884" width="2.5" height="48" fill="#ebbf46"/><rect x="1241.5" y="884" width="2" height="48" fill="#da5787"/><rect x="519" y="944" width="3.5" height="48" fill="#da5787"/><rect x="522.5" y="944" width="7.5" height="48" fill="#ebbf46"/><rect x="525" y="944" width="1" height="48" fill="#f2d27a"/><rect x="663" y="944" width="2" height="48" fill="#da5787"/><rect x="758" y="944" width="2" height="48" fill="#ebbf46"/><rect x="783" y="944" width="8" height="48" fill="#e05a50"/><rect x="791" y="944" width="61.5" height="48" fill="#ea6b48"/><rect x="852.5" y="944" width="1.5" height="48" fill="#ebbf46"/><rect x="854" y="944" width="45.5" height="48" fill="#ea6b48"/><rect x="907" y="944" width="10.5" height="48" fill="#ea6b48"/><rect x="917.5" y="944" width="12.5" height="48" fill="#e05a50"/><rect x="930" y="944" width="12" height="48" fill="#ea6b48"/><rect x="917.2" y="944" width="0.8" height="48" fill="#f08a70"/><rect x="929.6" y="944" width="0.8" height="48" fill="#f08a70"/><rect x="957.5" y="944" width="2.5" height="48" fill="#ebbf46"/><rect x="961" y="944" width="22.5" height="48" fill="#ebbf46"/><rect x="989" y="944" width="5.5" height="48" fill="#ebbf46"/><rect x="1000" y="944" width="7" height="48" fill="#ebbf46"/><rect x="1038.5" y="944" width="11.5" height="48" fill="#da5787"/><rect x="1115" y="944" width="9" height="48" fill="#da5787"/><rect x="1133" y="944" width="3" height="48" fill="#e05a50"/><rect x="1136" y="944" width="13.5" height="48" fill="#da5787"/><rect x="1162" y="944" width="3" height="48" fill="#ebbf46"/><rect x="1342.5" y="944" width="6.5" height="48" fill="#da5787"/><rect x="1352.5" y="944" width="2" height="48" fill="#da5787"/><rect x="1430" y="944" width="2" height="48" fill="#e05a50"/><rect x="1450.5" y="944" width="2.5" height="48" fill="#ebbf46"/><rect x="529" y="1004" width="2" height="42" fill="#ebbf46"/><rect x="533.5" y="1004" width="2" height="42" fill="#ebbf46"/><rect x="658" y="1004" width="5" height="42" fill="#da5787"/><rect x="706.5" y="1004" width="27" height="42" fill="#ea6b48"/><rect x="737" y="1004" width="2" height="42" fill="#e05a50"/><rect x="754.5" y="1004" width="3.5" height="42" fill="#ebbf46"/><rect x="778" y="1004" width="3" height="42" fill="#ea6b48"/><rect x="834" y="1004" width="130" height="42" fill="#ebbf46"/><rect x="851.2" y="1004" width="0.8" height="42" fill="#f0cc66"/><rect x="856.5" y="1004" width="1" height="42" fill="#f2d27a"/><rect x="976.5" y="1004" width="267" height="42" fill="#ebbf46"/><rect x="1453.5" y="1004" width="2.5" height="42" fill="#ebbf46"/></svg>
<span class="t" style="left:1147.55px;top:766.00px;font-size:24px;line-height:24px;color:#ffffff;transform:scaleX(0.7083);">s</span>
<span class="t" style="left:1146.55px;top:789.00px;font-size:20.5px;line-height:20.5px;color:rgba(255,255,255,0.62);transform:scaleX(0.7679);">S</span>
<span class="t" style="left:555.05px;top:826.00px;font-size:24px;line-height:24px;color:#ffffff;transform:scaleX(0.9048);">org.tensorflow.lite.examp...</span>
<span class="t" style="left:621.05px;top:849.00px;font-size:20.5px;line-height:20.5px;color:rgba(255,255,255,0.62);transform:scaleX(0.8590);">inference [1709]</span>
<span class="t" style="left:867.75px;top:826.00px;font-size:24px;line-height:24px;color:#ffffff;transform:scaleX(0.7866);">o</span>
<span class="t" style="left:871.25px;top:849.00px;font-size:20.5px;line-height:20.5px;color:rgba(255,255,255,0.62);transform:scaleX(0.7684);">i</span>
<span class="t" style="left:917.70px;top:826.00px;font-size:24px;line-height:24px;color:#ffffff;transform:scaleX(0.9095);">org.tensorflow.l...</span>
<span class="t" style="left:937.05px;top:849.00px;font-size:20.5px;line-height:20.5px;color:rgba(255,255,255,0.62);transform:scaleX(0.8590);">inference [1709]</span>
<span class="t" style="left:1129.60px;top:826.00px;font-size:24px;line-height:24px;color:#ffffff;transform:scaleX(0.8850);">org...</span>
<span class="t" style="left:1136.10px;top:849.00px;font-size:20.5px;line-height:20.5px;color:rgba(255,255,255,0.62);transform:scaleX(0.9139);">inf...</span>
<span class="t" style="left:1239.55px;top:826.00px;font-size:24px;line-height:24px;color:#ffffff;transform:scaleX(0.9048);">org.tensorflow.lite.examp...</span>
<span class="t" style="left:1305.55px;top:849.00px;font-size:20.5px;line-height:20.5px;color:rgba(255,255,255,0.62);transform:scaleX(0.8590);">inference [1709]</span>
<span class="t" style="left:762.15px;top:886.00px;font-size:24px;line-height:24px;color:#ffffff;transform:scaleX(0.7866);">o</span>
<span class="t" style="left:762.15px;top:909.00px;font-size:20.5px;line-height:20.5px;color:rgba(255,255,255,0.62);transform:scaleX(0.7092);">R</span>
<span class="t" style="left:804.00px;top:946.00px;font-size:24px;line-height:24px;color:#ffffff;transform:scaleX(0.8746);">or...</span>
<span class="t" style="left:804.50px;top:969.00px;font-size:20.5px;line-height:20.5px;color:rgba(255,255,255,0.62);transform:scaleX(0.7854);">Re...</span>
<span class="t" style="left:871.35px;top:946.00px;font-size:24px;line-height:24px;color:#ffffff;transform:scaleX(0.7866);">o</span>
<span class="t" style="left:871.35px;top:969.00px;font-size:20.5px;line-height:20.5px;color:rgba(255,255,255,0.62);transform:scaleX(0.7092);">R</span>
<span class="t" style="left:966.80px;top:946.00px;font-size:24px;line-height:24px;color:#ffffff;transform:scaleX(0.7492);">a</span>
<span class="t" style="left:966.55px;top:969.00px;font-size:20.5px;line-height:20.5px;color:rgba(255,255,255,0.62);transform:scaleX(0.7092);">C</span>
<span class="t" style="left:714.25px;top:1006.00px;font-size:24px;line-height:24px;color:#ffffff;transform:scaleX(0.7866);">o</span>
<span class="t" style="left:837.00px;top:1006.00px;font-size:24px;line-height:24px;color:#ffffff;transform:scaleX(0.7492);">a</span>
<span class="t" style="left:836.75px;top:1029.00px;font-size:20.5px;line-height:20.5px;color:rgba(255,255,255,0.62);transform:scaleX(0.7092);">C</span>
<span class="t" style="left:874.50px;top:1006.00px;font-size:24px;line-height:24px;color:#ffffff;transform:scaleX(0.8724);">andro...</span>
<span class="t" style="left:882.00px;top:1029.00px;font-size:20.5px;line-height:20.5px;color:rgba(255,255,255,0.62);transform:scaleX(0.8194);">ChiCt...</span>
<span class="t" style="left:1005.00px;top:1006.00px;font-size:24px;line-height:24px;color:#ffffff;transform:scaleX(0.8835);">android.hardware.ca...</span>
<span class="t" style="left:1053.50px;top:1029.00px;font-size:20.5px;line-height:20.5px;color:rgba(255,255,255,0.62);transform:scaleX(0.8407);">ChiCtx0 [1565]</span>
<div class="r" style="left:502px;top:473px;width:2px;height:573px;background:#c5cddb;"></div>
<div class="r" style="left:4px;top:629px;width:1501px;height:6.5px;background:linear-gradient(180deg,#e0e2e4,#d3d5d8);"></div>
<div class="r" style="left:4px;top:635.3px;width:1501px;height:2.4px;background:#b9bcc0;"></div>
<div class="r" style="left:4px;top:637.7px;width:1501px;height:30px;background:linear-gradient(180deg,rgba(35,45,60,0.16),rgba(35,45,60,0.06) 45%,rgba(35,45,60,0));"></div>
<svg class="r" style="left:500px;top:629px" width="1000" height="4" viewBox="500 629 1000 4"><rect x="540.5" y="630.9" width="1.6" height="1.1" fill="#c0305a"/><rect x="931" y="630.9" width="1.6" height="1.1" fill="#d0404a"/><rect x="968" y="630.9" width="1.6" height="1.1" fill="#d0404a"/><rect x="973.6" y="630.9" width="27.7" height="1.1" fill="#dc5a5a"/><rect x="1032.8" y="630.9" width="6.7" height="1.1" fill="#d85080"/><rect x="1488.2" y="630.9" width="2" height="1.1" fill="#c0305a"/></svg>
<svg class="r" style="left:626px;top:471px" width="8" height="575" viewBox="626 471 8 575"><rect x="628.3" y="471" width="3.6" height="575" fill="#a9a9a9"/></svg>
<div class="r" style="left:1505px;top:631px;width:15px;height:415px;background:#f1f1f1;"></div>
<div class="r" style="left:1507px;top:646px;width:11px;height:30px;background:#c1c1c1;"></div>
<svg class="r" style="left:1505px;top:631px" width="15" height="415" viewBox="0 0 15 415"><path d="M3.8 10.2 L7.4 6 L11 10.2z" fill="#505050"/><path d="M4.2 405.5 L10.6 405.5 L7.4 409.3z" fill="#505050"/></svg>
<div class="r" style="left:610px;top:629px;width:2px;height:9px;background:rgba(0,0,0,0.12);"></div>
<div class="r" style="left:748px;top:629px;width:2px;height:9px;background:rgba(0,0,0,0.12);"></div>
<div class="r" style="left:884px;top:629px;width:2px;height:9px;background:rgba(0,0,0,0.12);"></div>
<div class="r" style="left:1022px;top:629px;width:2px;height:9px;background:rgba(0,0,0,0.12);"></div>
<div class="r" style="left:1158px;top:629px;width:2px;height:9px;background:rgba(0,0,0,0.12);"></div>
<div class="r" style="left:1296px;top:629px;width:2px;height:9px;background:rgba(0,0,0,0.12);"></div>
<div class="r" style="left:1432px;top:629px;width:2px;height:9px;background:rgba(0,0,0,0.12);"></div>
<div class="r" style="left:4px;top:1046px;width:1516px;height:2px;background:#d6d6d6;"></div>
<div class="r" style="left:4px;top:1048px;width:1516px;height:54px;background:#f2f2f2;"></div>
<div class="r" style="left:6px;top:1054px;width:221px;height:50px;background:#ffffff;box-sizing:border-box;border:2px solid #b6b6b6;border-bottom:none;border-radius:9px 9px 0 0;height:48px;"></div>
<span class="t" style="left:29.00px;top:1064.00px;font-size:26px;line-height:26px;color:#3a495b;transform:scaleX(0.8711);">Current Selection</span>
<svg class="r" style="left:1402px;top:1050px" width="48" height="48" viewBox="0 0 24 24"><path fill="#111" d="M8 11h3v10h2V11h3l-4-4-4 4zM4 3v2h16V3H4z"/></svg>
<svg class="r" style="left:1460px;top:1050px" width="48" height="48" viewBox="0 0 24 24"><path fill="#111" d="M12 8l-6 6 1.41 1.41L12 10.83l4.59 4.58L18 14z"/></svg>
<div class="r" style="left:0;top:0;width:1524px;height:1106px;box-sizing:border-box;border:1px solid #3b3b3b;border-top-color:#4a4a4a;border-bottom-width:1.5px"></div>
<svg class="r" style="left:0;top:0" width="1524" height="1106" viewBox="0 0 1524 1106"><path d="M0 1102 L4 1106 L0 1106z M1524 1102 L1520 1106 L1524 1106z M1520 0 L1524 4 L1524 0z" fill="#111"/><rect x="1518" y="1048" width="1.2" height="54" fill="#dadada"/><rect x="4" y="1048" width="1.7" height="54" fill="#dcdcdc"/></svg>
</body></html>
